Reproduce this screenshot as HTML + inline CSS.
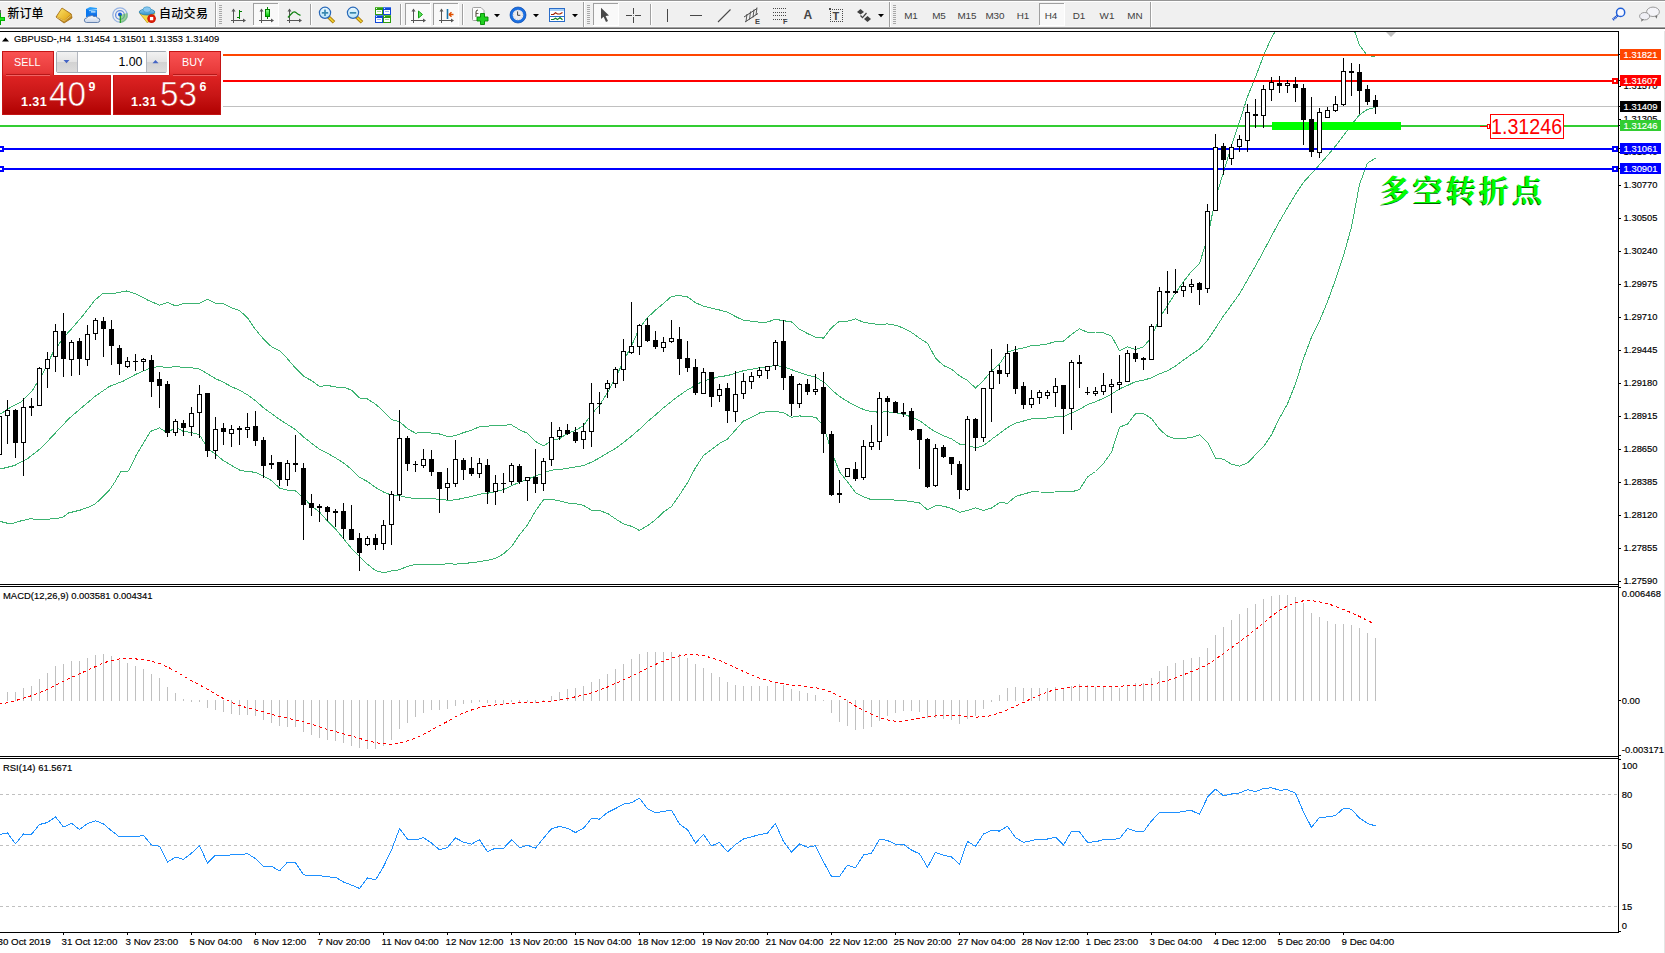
<!DOCTYPE html>
<html><head><meta charset="utf-8"><title>GBPUSD-,H4</title>
<style>
html,body{margin:0;padding:0;background:#fff;}
body{width:1665px;height:953px;overflow:hidden;position:relative;font-family:"Liberation Sans","Noto Sans CJK SC",sans-serif;}
#chart{position:absolute;left:0;top:0;}
.ax{position:absolute;font-size:9.4px;line-height:11px;height:11px;color:#000;white-space:nowrap;letter-spacing:0px;-webkit-text-stroke:0.16px currentColor;}
.w{color:#fff;}
.pb{width:41px;height:11px;line-height:11.2px;box-sizing:border-box;padding-left:3.6px;}
.tm{font-size:9.75px;}
.ttl{font-size:9.35px;}
.ind{font-size:9.45px;}
.big{position:absolute;left:1380px;top:166px;font-family:"Noto Serif CJK SC","Noto Sans CJK SC",serif;font-weight:700;font-size:30px;line-height:44px;color:#00ff00;text-shadow:-1px 1px 0 #006400;white-space:nowrap;letter-spacing:3.1px;}
.redlbl{position:absolute;left:1491.2px;top:114px;width:70px;height:25px;line-height:25.5px;font-size:22px;color:#ff0000;white-space:nowrap;transform-origin:0 50%;transform:scaleX(0.895);}

#tb{position:absolute;left:0;top:0;width:1665px;height:31px;background:#f0f0f0;overflow:hidden;}
#tb .ln{position:absolute;left:0;width:1665px;height:1px;}
#tbs{position:absolute;left:0;top:0;}
.cn{position:absolute;top:6px;font-size:12px;line-height:17px;color:#000;font-weight:500;white-space:nowrap;font-family:"Liberation Sans","Noto Sans CJK SC",sans-serif;}
.tf{position:absolute;top:9px;width:28px;text-align:center;font-size:9.9px;line-height:13px;color:#404040;white-space:nowrap;}
.ib{position:absolute;font-weight:bold;color:#444;white-space:nowrap;}


#tp{position:absolute;left:0;top:46px;width:223px;height:72px;background:#fff;}
#tp .red{position:absolute;background:linear-gradient(#f95252 0,#e83a3a 20px,#dc2222 26px,#c81616 44px,#b20202 62px,#b00000 64px);background-size:100% 64px;border:1px solid #c41414;box-sizing:border-box;}
#tp .btn{background-position:0 0;}
#tp .low{background-position:0 -24px;}
#tp .t{position:absolute;color:#fff;white-space:nowrap;}
#tp .sp{position:absolute;left:56px;top:5px;width:111px;height:22px;box-sizing:border-box;border:1px solid #a4acb4;border-radius:2px;background:#fff;}
#tp .sb{position:absolute;top:6px;width:20px;height:20px;background:linear-gradient(#f2f2f2 0,#e4e4e4 49%,#d2d2d2 50%,#dcdcdc 100%);border-right:1px solid #b4b8c0;}

</style></head><body>
<svg id="chart" width="1665" height="953" viewBox="0 0 1665 953" shape-rendering="crispEdges">
<rect x="0" y="31" width="1619" height="1" fill="#000"/>
<rect x="1618" y="31" width="1" height="902" fill="#000"/>
<rect x="0" y="584" width="1619" height="1" fill="#000"/>
<rect x="0" y="586" width="1619" height="1" fill="#000"/>
<rect x="0" y="756" width="1619" height="1" fill="#000"/>
<rect x="0" y="758" width="1619" height="1" fill="#000"/>
<rect x="0" y="932" width="1619" height="1" fill="#000"/>
<rect x="1664" y="29" width="1" height="924" fill="#e4e4e4"/>
<clipPath id="mainclip"><rect x="0" y="32" width="1618" height="552"/></clipPath>
<polyline points="0.5,414.0 11.0,407.0 21.5,401.7 32.0,391.0 42.5,374.4 53.0,352.4 63.5,337.7 74.0,326.0 84.5,313.6 94.9,300.0 103.5,293.0 115.9,293.0 126.5,291.0 136.9,294.3 147.5,300.0 159.5,305.1 167.5,302.4 175.5,305.9 183.5,303.6 191.5,303.1 199.5,303.4 207.5,299.3 215.5,303.1 223.5,303.9 231.5,307.9 239.5,310.4 247.5,317.9 255.5,329.5 263.5,339.1 271.5,346.7 279.5,350.8 287.5,358.8 295.5,368.2 303.5,376.2 311.5,380.6 319.5,386.5 327.5,385.4 335.5,387.0 343.5,387.2 351.5,390.1 359.5,397.9 367.5,399.0 375.5,404.1 383.5,411.2 391.5,419.7 399.5,421.6 407.5,428.7 415.5,433.2 423.5,432.2 431.5,433.1 439.5,434.0 447.5,436.6 455.5,435.7 463.5,432.6 471.5,430.3 479.5,426.7 487.5,426.2 495.5,425.2 503.5,425.1 511.5,424.9 519.5,429.7 527.5,433.4 535.5,441.5 543.5,446.0 551.5,440.8 559.5,438.6 567.5,433.5 575.5,430.3 583.5,425.8 591.5,414.1 599.5,405.3 607.5,392.5 615.5,378.0 623.5,361.1 631.5,346.0 639.5,327.9 647.5,317.7 655.5,310.0 663.5,303.4 671.5,296.4 679.5,295.6 687.5,296.9 695.5,302.8 703.5,306.1 711.5,308.2 719.5,310.0 727.5,312.1 735.5,316.5 743.5,320.4 751.5,321.2 759.5,322.2 767.5,322.0 775.5,319.3 783.5,320.7 791.5,321.9 799.5,329.2 807.5,333.5 815.5,337.3 823.5,338.1 831.5,327.7 839.5,321.1 847.5,321.2 855.5,318.9 863.5,322.3 871.5,323.6 879.5,324.5 887.5,323.9 895.5,325.2 903.5,328.1 911.5,332.4 919.5,338.2 927.5,343.3 935.5,358.0 943.5,365.6 951.5,369.1 959.5,375.9 967.5,380.4 975.5,388.1 983.5,380.5 991.5,370.9 999.5,364.1 1007.5,352.0 1015.5,349.6 1023.5,347.9 1031.5,345.7 1039.5,345.1 1047.5,344.0 1055.5,341.4 1063.5,341.1 1071.5,334.4 1079.5,328.8 1087.5,332.3 1095.5,332.0 1103.5,332.9 1111.5,336.1 1119.5,350.6 1127.5,346.9 1135.5,349.5 1143.5,346.8 1151.5,337.2 1159.5,318.3 1167.5,305.4 1175.5,293.0 1183.5,281.6 1191.5,271.3 1199.5,263.6 1207.5,238.0 1215.5,198.3 1223.5,172.3 1231.5,145.8 1239.5,121.6 1247.5,96.7 1255.5,77.2 1263.5,55.8 1271.5,37.5 1279.5,24.4 1287.5,11.9 1295.5,4.7 1303.5,6.2 1311.5,10.1 1319.5,8.4 1327.5,9.3 1335.5,12.7 1343.5,14.9 1351.5,22.6 1359.5,45.3 1367.5,55.6 1375.5,56.5" fill="none" stroke="#3cb371" stroke-width="1" stroke-linejoin="round" clip-path="url(#mainclip)"/>
<polyline points="0.5,469.0 14.5,465.5 27.5,458.7 41.5,447.8 55.5,432.8 68.5,419.0 82.5,407.0 95.5,396.0 109.5,386.4 123.5,381.0 136.5,374.0 150.5,367.9 159.5,366.5 167.5,367.6 175.5,366.5 183.5,367.5 191.5,367.8 199.5,369.1 207.5,373.7 215.5,378.6 223.5,382.3 231.5,386.7 239.5,390.2 247.5,394.8 255.5,400.8 263.5,407.7 271.5,413.6 279.5,419.4 287.5,424.5 295.5,429.6 303.5,436.9 311.5,443.2 319.5,449.3 327.5,453.3 335.5,457.9 343.5,462.9 351.5,469.3 359.5,477.2 367.5,481.6 375.5,487.4 383.5,492.0 391.5,495.2 399.5,495.7 407.5,497.5 415.5,498.7 423.5,498.4 431.5,498.8 439.5,499.2 447.5,500.2 455.5,499.9 463.5,498.1 471.5,496.5 479.5,494.2 487.5,493.2 495.5,491.7 503.5,489.5 511.5,485.8 519.5,482.3 527.5,479.2 535.5,476.1 543.5,473.0 551.5,470.1 559.5,469.7 567.5,468.2 575.5,467.0 583.5,465.6 591.5,462.2 599.5,457.9 607.5,453.0 615.5,448.4 623.5,442.5 631.5,436.1 639.5,429.2 647.5,421.7 655.5,414.9 663.5,407.8 671.5,401.4 679.5,395.3 687.5,389.8 695.5,385.3 703.5,380.8 711.5,378.8 719.5,376.7 727.5,375.6 735.5,373.2 743.5,370.7 751.5,369.3 759.5,367.6 767.5,366.8 775.5,365.4 783.5,366.7 791.5,369.6 799.5,372.6 807.5,375.1 815.5,377.2 823.5,381.8 831.5,389.7 839.5,396.4 847.5,401.5 855.5,405.8 863.5,409.5 871.5,411.7 879.5,412.2 887.5,411.8 895.5,412.7 903.5,414.3 911.5,417.0 919.5,420.5 927.5,426.6 935.5,431.9 943.5,435.8 951.5,438.8 959.5,444.1 967.5,445.4 975.5,447.9 983.5,445.6 991.5,439.4 999.5,433.4 1007.5,427.6 1015.5,423.1 1023.5,421.0 1031.5,418.8 1039.5,418.5 1047.5,418.0 1055.5,416.7 1063.5,416.5 1071.5,413.1 1079.5,409.3 1087.5,404.6 1095.5,401.8 1103.5,398.2 1111.5,394.2 1119.5,388.8 1127.5,385.5 1135.5,381.6 1143.5,380.1 1151.5,377.9 1159.5,373.8 1167.5,370.8 1175.5,366.0 1183.5,360.1 1191.5,354.3 1199.5,349.2 1207.5,340.2 1215.5,328.2 1223.5,315.8 1231.5,305.0 1239.5,293.8 1247.5,279.8 1255.5,266.0 1263.5,251.2 1271.5,236.1 1279.5,221.3 1287.5,207.8 1295.5,194.3 1303.5,182.3 1311.5,173.6 1319.5,164.7 1327.5,155.5 1335.5,146.1 1343.5,135.4 1351.5,124.8 1359.5,114.8 1367.5,109.4 1375.5,107.3" fill="none" stroke="#3cb371" stroke-width="1" stroke-linejoin="round" clip-path="url(#mainclip)"/>
<polyline points="0.5,521.5 10.5,524.0 20.5,521.0 30.5,518.7 40.5,520.0 55.5,518.5 62.5,517.4 68.5,513.0 80.5,510.0 90.5,506.5 95.5,503.7 102.5,497.0 109.5,490.0 115.5,481.0 120.5,472.0 128.5,471.0 136.5,454.6 143.5,443.0 150.5,431.4 159.5,427.9 167.5,432.8 175.5,427.1 183.5,431.5 191.5,432.5 199.5,434.8 207.5,448.2 215.5,454.2 223.5,460.7 231.5,465.4 239.5,470.0 247.5,471.7 255.5,472.2 263.5,476.3 271.5,480.5 279.5,488.0 287.5,490.2 295.5,491.0 303.5,497.7 311.5,505.9 319.5,512.1 327.5,521.1 335.5,528.8 343.5,538.7 351.5,548.5 359.5,556.5 367.5,564.2 375.5,570.6 383.5,572.8 391.5,570.8 399.5,569.8 407.5,566.3 415.5,564.3 423.5,564.6 431.5,564.4 439.5,564.4 447.5,563.8 455.5,564.1 463.5,563.7 471.5,562.6 479.5,561.7 487.5,560.3 495.5,558.3 503.5,553.9 511.5,546.6 519.5,534.8 527.5,524.9 535.5,510.8 543.5,499.9 551.5,499.4 559.5,500.8 567.5,503.0 575.5,503.7 583.5,505.4 591.5,510.2 599.5,510.6 607.5,513.4 615.5,518.9 623.5,523.9 631.5,526.3 639.5,530.5 647.5,525.7 655.5,519.7 663.5,512.1 671.5,506.5 679.5,495.0 687.5,482.7 695.5,467.7 703.5,455.5 711.5,449.4 719.5,443.5 727.5,439.0 735.5,429.9 743.5,421.0 751.5,417.5 759.5,413.0 767.5,411.6 775.5,411.5 783.5,412.7 791.5,417.3 799.5,415.9 807.5,416.8 815.5,417.1 823.5,425.6 831.5,451.6 839.5,471.8 847.5,481.8 855.5,492.7 863.5,496.7 871.5,499.8 879.5,499.9 887.5,499.6 895.5,500.1 903.5,500.6 911.5,501.6 919.5,502.9 927.5,509.8 935.5,505.7 943.5,506.1 951.5,508.5 959.5,512.3 967.5,510.5 975.5,507.7 983.5,510.6 991.5,508.0 999.5,502.6 1007.5,503.2 1015.5,496.6 1023.5,494.1 1031.5,491.9 1039.5,492.0 1047.5,492.1 1055.5,492.0 1063.5,491.9 1071.5,491.8 1079.5,489.7 1087.5,476.9 1095.5,471.5 1103.5,463.4 1111.5,452.3 1119.5,427.1 1127.5,424.1 1135.5,413.7 1143.5,413.5 1151.5,418.6 1159.5,429.3 1167.5,436.1 1175.5,439.0 1183.5,438.5 1191.5,437.4 1199.5,434.8 1207.5,442.3 1215.5,458.1 1223.5,459.2 1231.5,464.3 1239.5,466.1 1247.5,462.9 1255.5,454.8 1263.5,446.7 1271.5,434.7 1279.5,418.2 1287.5,403.8 1295.5,383.9 1303.5,358.5 1311.5,337.2 1319.5,320.9 1327.5,301.8 1335.5,279.5 1343.5,255.8 1351.5,227.0 1359.5,184.4 1367.5,163.1 1375.5,158.2" fill="none" stroke="#3cb371" stroke-width="1" stroke-linejoin="round" clip-path="url(#mainclip)"/>
<rect x="0" y="106" width="1618" height="1" fill="#c0c0c0"/>
<rect x="223" y="54" width="1395" height="2" fill="#ff4500"/>
<rect x="223" y="80" width="1395" height="2" fill="#ff0000"/>
<rect x="0" y="125" width="1618" height="2" fill="#32cd32"/>
<rect x="0" y="148" width="1618" height="2" fill="#0000ff"/>
<rect x="0" y="168" width="1618" height="2" fill="#0000ff"/>
<rect x="1272" y="122" width="129" height="8" fill="#00ff00"/>
<rect x="1612" y="78" width="6" height="6" fill="#ff0000"/>
<rect x="1614" y="80" width="2" height="2" fill="#fff"/>
<rect x="1612" y="146" width="6" height="6" fill="#0000ff"/>
<rect x="1614" y="148" width="2" height="2" fill="#fff"/>
<rect x="1612" y="166" width="6" height="6" fill="#0000ff"/>
<rect x="1614" y="168" width="2" height="2" fill="#fff"/>
<rect x="0" y="146" width="4" height="6" fill="#0000ff"/>
<rect x="0" y="148" width="2" height="2" fill="#fff"/>
<rect x="0" y="166" width="4" height="6" fill="#0000ff"/>
<rect x="0" y="168" width="2" height="2" fill="#fff"/>
<rect x="-1" y="400" width="1" height="55" fill="#000"/>
<rect x="-3" y="416" width="5" height="39" fill="#000"/>
<rect x="-2" y="417" width="3" height="37" fill="#fff"/>
<rect x="7" y="400" width="1" height="44" fill="#000"/>
<rect x="5" y="410" width="5" height="6" fill="#000"/>
<rect x="6" y="411" width="3" height="4" fill="#fff"/>
<rect x="15" y="409" width="1" height="49" fill="#000"/>
<rect x="13" y="410" width="5" height="33" fill="#000"/>
<rect x="23" y="398" width="1" height="78" fill="#000"/>
<rect x="21" y="407" width="5" height="36" fill="#000"/>
<rect x="22" y="408" width="3" height="34" fill="#fff"/>
<rect x="31" y="398" width="1" height="18" fill="#000"/>
<rect x="29" y="406" width="5" height="2" fill="#000"/>
<rect x="39" y="367" width="1" height="39" fill="#000"/>
<rect x="37" y="368" width="5" height="38" fill="#000"/>
<rect x="38" y="369" width="3" height="36" fill="#fff"/>
<rect x="47" y="352" width="1" height="36" fill="#000"/>
<rect x="45" y="359" width="5" height="10" fill="#000"/>
<rect x="46" y="360" width="3" height="8" fill="#fff"/>
<rect x="55" y="324" width="1" height="48" fill="#000"/>
<rect x="53" y="331" width="5" height="26" fill="#000"/>
<rect x="54" y="332" width="3" height="24" fill="#fff"/>
<rect x="63" y="313" width="1" height="64" fill="#000"/>
<rect x="61" y="331" width="5" height="28" fill="#000"/>
<rect x="71" y="340" width="1" height="36" fill="#000"/>
<rect x="69" y="342" width="5" height="18" fill="#000"/>
<rect x="70" y="343" width="3" height="16" fill="#fff"/>
<rect x="79" y="338" width="1" height="37" fill="#000"/>
<rect x="77" y="341" width="5" height="18" fill="#000"/>
<rect x="87" y="325" width="1" height="41" fill="#000"/>
<rect x="85" y="334" width="5" height="26" fill="#000"/>
<rect x="86" y="335" width="3" height="24" fill="#fff"/>
<rect x="95" y="318" width="1" height="22" fill="#000"/>
<rect x="93" y="320" width="5" height="14" fill="#000"/>
<rect x="94" y="321" width="3" height="12" fill="#fff"/>
<rect x="103" y="317" width="1" height="40" fill="#000"/>
<rect x="101" y="321" width="5" height="8" fill="#000"/>
<rect x="111" y="320" width="1" height="45" fill="#000"/>
<rect x="109" y="329" width="5" height="17" fill="#000"/>
<rect x="119" y="345" width="1" height="30" fill="#000"/>
<rect x="117" y="348" width="5" height="16" fill="#000"/>
<rect x="127" y="357" width="1" height="11" fill="#000"/>
<rect x="125" y="361" width="5" height="6" fill="#000"/>
<rect x="126" y="362" width="3" height="4" fill="#fff"/>
<rect x="135" y="354" width="1" height="17" fill="#000"/>
<rect x="133" y="361" width="5" height="1" fill="#000"/>
<rect x="143" y="358" width="1" height="13" fill="#000"/>
<rect x="141" y="359" width="5" height="3" fill="#000"/>
<rect x="142" y="360" width="3" height="1" fill="#fff"/>
<rect x="151" y="355" width="1" height="42" fill="#000"/>
<rect x="149" y="360" width="5" height="22" fill="#000"/>
<rect x="159" y="372" width="1" height="36" fill="#000"/>
<rect x="157" y="379" width="5" height="7" fill="#000"/>
<rect x="167" y="381" width="1" height="56" fill="#000"/>
<rect x="165" y="384" width="5" height="49" fill="#000"/>
<rect x="175" y="419" width="1" height="17" fill="#000"/>
<rect x="173" y="421" width="5" height="12" fill="#000"/>
<rect x="174" y="422" width="3" height="10" fill="#fff"/>
<rect x="183" y="420" width="1" height="16" fill="#000"/>
<rect x="181" y="423" width="5" height="5" fill="#000"/>
<rect x="191" y="407" width="1" height="29" fill="#000"/>
<rect x="189" y="413" width="5" height="14" fill="#000"/>
<rect x="190" y="414" width="3" height="12" fill="#fff"/>
<rect x="199" y="385" width="1" height="53" fill="#000"/>
<rect x="197" y="394" width="5" height="19" fill="#000"/>
<rect x="198" y="395" width="3" height="17" fill="#fff"/>
<rect x="207" y="393" width="1" height="64" fill="#000"/>
<rect x="205" y="393" width="5" height="58" fill="#000"/>
<rect x="215" y="417" width="1" height="42" fill="#000"/>
<rect x="213" y="429" width="5" height="22" fill="#000"/>
<rect x="214" y="430" width="3" height="20" fill="#fff"/>
<rect x="223" y="423" width="1" height="22" fill="#000"/>
<rect x="221" y="428" width="5" height="4" fill="#000"/>
<rect x="231" y="425" width="1" height="22" fill="#000"/>
<rect x="229" y="429" width="5" height="5" fill="#000"/>
<rect x="230" y="430" width="3" height="3" fill="#fff"/>
<rect x="239" y="426" width="1" height="19" fill="#000"/>
<rect x="237" y="428" width="5" height="2" fill="#000"/>
<rect x="247" y="413" width="1" height="25" fill="#000"/>
<rect x="245" y="427" width="5" height="3" fill="#000"/>
<rect x="246" y="428" width="3" height="1" fill="#fff"/>
<rect x="255" y="411" width="1" height="35" fill="#000"/>
<rect x="253" y="426" width="5" height="15" fill="#000"/>
<rect x="263" y="437" width="1" height="41" fill="#000"/>
<rect x="261" y="440" width="5" height="26" fill="#000"/>
<rect x="271" y="455" width="1" height="14" fill="#000"/>
<rect x="269" y="463" width="5" height="2" fill="#000"/>
<rect x="279" y="462" width="1" height="24" fill="#000"/>
<rect x="277" y="462" width="5" height="18" fill="#000"/>
<rect x="287" y="460" width="1" height="26" fill="#000"/>
<rect x="285" y="463" width="5" height="17" fill="#000"/>
<rect x="286" y="464" width="3" height="15" fill="#fff"/>
<rect x="295" y="435" width="1" height="37" fill="#000"/>
<rect x="293" y="463" width="5" height="2" fill="#000"/>
<rect x="303" y="463" width="1" height="77" fill="#000"/>
<rect x="301" y="468" width="5" height="37" fill="#000"/>
<rect x="311" y="494" width="1" height="22" fill="#000"/>
<rect x="309" y="503" width="5" height="5" fill="#000"/>
<rect x="319" y="504" width="1" height="18" fill="#000"/>
<rect x="317" y="506" width="5" height="2" fill="#000"/>
<rect x="327" y="506" width="1" height="15" fill="#000"/>
<rect x="325" y="507" width="5" height="5" fill="#000"/>
<rect x="335" y="509" width="1" height="18" fill="#000"/>
<rect x="333" y="511" width="5" height="2" fill="#000"/>
<rect x="343" y="503" width="1" height="36" fill="#000"/>
<rect x="341" y="511" width="5" height="18" fill="#000"/>
<rect x="351" y="505" width="1" height="35" fill="#000"/>
<rect x="349" y="529" width="5" height="11" fill="#000"/>
<rect x="359" y="533" width="1" height="38" fill="#000"/>
<rect x="357" y="538" width="5" height="15" fill="#000"/>
<rect x="367" y="536" width="1" height="10" fill="#000"/>
<rect x="365" y="538" width="5" height="7" fill="#000"/>
<rect x="366" y="539" width="3" height="5" fill="#fff"/>
<rect x="375" y="534" width="1" height="16" fill="#000"/>
<rect x="373" y="538" width="5" height="7" fill="#000"/>
<rect x="383" y="520" width="1" height="30" fill="#000"/>
<rect x="381" y="525" width="5" height="19" fill="#000"/>
<rect x="382" y="526" width="3" height="17" fill="#fff"/>
<rect x="391" y="491" width="1" height="54" fill="#000"/>
<rect x="389" y="494" width="5" height="31" fill="#000"/>
<rect x="390" y="495" width="3" height="29" fill="#fff"/>
<rect x="399" y="410" width="1" height="91" fill="#000"/>
<rect x="397" y="438" width="5" height="57" fill="#000"/>
<rect x="398" y="439" width="3" height="55" fill="#fff"/>
<rect x="407" y="436" width="1" height="35" fill="#000"/>
<rect x="405" y="438" width="5" height="26" fill="#000"/>
<rect x="415" y="461" width="1" height="11" fill="#000"/>
<rect x="413" y="464" width="5" height="1" fill="#000"/>
<rect x="423" y="449" width="1" height="19" fill="#000"/>
<rect x="421" y="459" width="5" height="7" fill="#000"/>
<rect x="422" y="460" width="3" height="5" fill="#fff"/>
<rect x="431" y="450" width="1" height="26" fill="#000"/>
<rect x="429" y="459" width="5" height="13" fill="#000"/>
<rect x="439" y="472" width="1" height="41" fill="#000"/>
<rect x="437" y="472" width="5" height="17" fill="#000"/>
<rect x="447" y="468" width="1" height="32" fill="#000"/>
<rect x="445" y="483" width="5" height="5" fill="#000"/>
<rect x="446" y="484" width="3" height="3" fill="#fff"/>
<rect x="455" y="440" width="1" height="47" fill="#000"/>
<rect x="453" y="459" width="5" height="25" fill="#000"/>
<rect x="454" y="460" width="3" height="23" fill="#fff"/>
<rect x="463" y="458" width="1" height="22" fill="#000"/>
<rect x="461" y="460" width="5" height="10" fill="#000"/>
<rect x="471" y="457" width="1" height="19" fill="#000"/>
<rect x="469" y="468" width="5" height="6" fill="#000"/>
<rect x="479" y="458" width="1" height="20" fill="#000"/>
<rect x="477" y="463" width="5" height="11" fill="#000"/>
<rect x="478" y="464" width="3" height="9" fill="#fff"/>
<rect x="487" y="459" width="1" height="45" fill="#000"/>
<rect x="485" y="465" width="5" height="27" fill="#000"/>
<rect x="495" y="475" width="1" height="30" fill="#000"/>
<rect x="493" y="483" width="5" height="9" fill="#000"/>
<rect x="494" y="484" width="3" height="7" fill="#fff"/>
<rect x="503" y="473" width="1" height="20" fill="#000"/>
<rect x="501" y="483" width="5" height="1" fill="#000"/>
<rect x="511" y="463" width="1" height="22" fill="#000"/>
<rect x="509" y="465" width="5" height="17" fill="#000"/>
<rect x="510" y="466" width="3" height="15" fill="#fff"/>
<rect x="519" y="464" width="1" height="20" fill="#000"/>
<rect x="517" y="466" width="5" height="16" fill="#000"/>
<rect x="527" y="477" width="1" height="24" fill="#000"/>
<rect x="525" y="477" width="5" height="4" fill="#000"/>
<rect x="526" y="478" width="3" height="2" fill="#fff"/>
<rect x="535" y="449" width="1" height="44" fill="#000"/>
<rect x="533" y="477" width="5" height="7" fill="#000"/>
<rect x="543" y="458" width="1" height="33" fill="#000"/>
<rect x="541" y="461" width="5" height="23" fill="#000"/>
<rect x="542" y="462" width="3" height="21" fill="#fff"/>
<rect x="551" y="422" width="1" height="44" fill="#000"/>
<rect x="549" y="437" width="5" height="23" fill="#000"/>
<rect x="550" y="438" width="3" height="21" fill="#fff"/>
<rect x="559" y="427" width="1" height="13" fill="#000"/>
<rect x="557" y="430" width="5" height="7" fill="#000"/>
<rect x="558" y="431" width="3" height="5" fill="#fff"/>
<rect x="567" y="424" width="1" height="11" fill="#000"/>
<rect x="565" y="430" width="5" height="4" fill="#000"/>
<rect x="575" y="427" width="1" height="16" fill="#000"/>
<rect x="573" y="432" width="5" height="9" fill="#000"/>
<rect x="583" y="423" width="1" height="26" fill="#000"/>
<rect x="581" y="431" width="5" height="9" fill="#000"/>
<rect x="582" y="432" width="3" height="7" fill="#fff"/>
<rect x="591" y="383" width="1" height="64" fill="#000"/>
<rect x="589" y="403" width="5" height="29" fill="#000"/>
<rect x="590" y="404" width="3" height="27" fill="#fff"/>
<rect x="599" y="392" width="1" height="22" fill="#000"/>
<rect x="597" y="403" width="5" height="1" fill="#000"/>
<rect x="607" y="380" width="1" height="18" fill="#000"/>
<rect x="605" y="383" width="5" height="6" fill="#000"/>
<rect x="606" y="384" width="3" height="4" fill="#fff"/>
<rect x="615" y="367" width="1" height="21" fill="#000"/>
<rect x="613" y="369" width="5" height="15" fill="#000"/>
<rect x="614" y="370" width="3" height="13" fill="#fff"/>
<rect x="623" y="339" width="1" height="42" fill="#000"/>
<rect x="621" y="351" width="5" height="19" fill="#000"/>
<rect x="622" y="352" width="3" height="17" fill="#fff"/>
<rect x="631" y="302" width="1" height="52" fill="#000"/>
<rect x="629" y="346" width="5" height="7" fill="#000"/>
<rect x="630" y="347" width="3" height="5" fill="#fff"/>
<rect x="639" y="324" width="1" height="31" fill="#000"/>
<rect x="637" y="325" width="5" height="22" fill="#000"/>
<rect x="638" y="326" width="3" height="20" fill="#fff"/>
<rect x="647" y="318" width="1" height="24" fill="#000"/>
<rect x="645" y="325" width="5" height="16" fill="#000"/>
<rect x="655" y="331" width="1" height="18" fill="#000"/>
<rect x="653" y="340" width="5" height="7" fill="#000"/>
<rect x="663" y="337" width="1" height="15" fill="#000"/>
<rect x="661" y="342" width="5" height="6" fill="#000"/>
<rect x="662" y="343" width="3" height="4" fill="#fff"/>
<rect x="671" y="320" width="1" height="23" fill="#000"/>
<rect x="669" y="338" width="5" height="4" fill="#000"/>
<rect x="670" y="339" width="3" height="2" fill="#fff"/>
<rect x="679" y="327" width="1" height="48" fill="#000"/>
<rect x="677" y="339" width="5" height="20" fill="#000"/>
<rect x="687" y="341" width="1" height="31" fill="#000"/>
<rect x="685" y="358" width="5" height="10" fill="#000"/>
<rect x="695" y="359" width="1" height="36" fill="#000"/>
<rect x="693" y="367" width="5" height="26" fill="#000"/>
<rect x="703" y="368" width="1" height="26" fill="#000"/>
<rect x="701" y="372" width="5" height="22" fill="#000"/>
<rect x="702" y="373" width="3" height="20" fill="#fff"/>
<rect x="711" y="372" width="1" height="35" fill="#000"/>
<rect x="709" y="372" width="5" height="25" fill="#000"/>
<rect x="719" y="384" width="1" height="18" fill="#000"/>
<rect x="717" y="389" width="5" height="7" fill="#000"/>
<rect x="718" y="390" width="3" height="5" fill="#fff"/>
<rect x="727" y="383" width="1" height="40" fill="#000"/>
<rect x="725" y="388" width="5" height="23" fill="#000"/>
<rect x="735" y="371" width="1" height="51" fill="#000"/>
<rect x="733" y="394" width="5" height="18" fill="#000"/>
<rect x="734" y="395" width="3" height="16" fill="#fff"/>
<rect x="743" y="373" width="1" height="26" fill="#000"/>
<rect x="741" y="381" width="5" height="13" fill="#000"/>
<rect x="742" y="382" width="3" height="11" fill="#fff"/>
<rect x="751" y="372" width="1" height="17" fill="#000"/>
<rect x="749" y="376" width="5" height="6" fill="#000"/>
<rect x="750" y="377" width="3" height="4" fill="#fff"/>
<rect x="759" y="367" width="1" height="11" fill="#000"/>
<rect x="757" y="370" width="5" height="6" fill="#000"/>
<rect x="758" y="371" width="3" height="4" fill="#fff"/>
<rect x="767" y="366" width="1" height="13" fill="#000"/>
<rect x="765" y="366" width="5" height="5" fill="#000"/>
<rect x="766" y="367" width="3" height="3" fill="#fff"/>
<rect x="775" y="340" width="1" height="30" fill="#000"/>
<rect x="773" y="342" width="5" height="24" fill="#000"/>
<rect x="774" y="343" width="3" height="22" fill="#fff"/>
<rect x="783" y="320" width="1" height="70" fill="#000"/>
<rect x="781" y="341" width="5" height="37" fill="#000"/>
<rect x="791" y="374" width="1" height="42" fill="#000"/>
<rect x="789" y="376" width="5" height="28" fill="#000"/>
<rect x="799" y="383" width="1" height="25" fill="#000"/>
<rect x="797" y="384" width="5" height="20" fill="#000"/>
<rect x="798" y="385" width="3" height="18" fill="#fff"/>
<rect x="807" y="379" width="1" height="16" fill="#000"/>
<rect x="805" y="384" width="5" height="8" fill="#000"/>
<rect x="815" y="374" width="1" height="21" fill="#000"/>
<rect x="813" y="389" width="5" height="3" fill="#000"/>
<rect x="814" y="390" width="3" height="1" fill="#fff"/>
<rect x="823" y="372" width="1" height="81" fill="#000"/>
<rect x="821" y="387" width="5" height="47" fill="#000"/>
<rect x="831" y="431" width="1" height="65" fill="#000"/>
<rect x="829" y="434" width="5" height="61" fill="#000"/>
<rect x="839" y="480" width="1" height="23" fill="#000"/>
<rect x="837" y="493" width="5" height="2" fill="#000"/>
<rect x="847" y="468" width="1" height="9" fill="#000"/>
<rect x="845" y="468" width="5" height="9" fill="#000"/>
<rect x="846" y="469" width="3" height="7" fill="#fff"/>
<rect x="855" y="462" width="1" height="19" fill="#000"/>
<rect x="853" y="469" width="5" height="10" fill="#000"/>
<rect x="863" y="440" width="1" height="40" fill="#000"/>
<rect x="861" y="446" width="5" height="32" fill="#000"/>
<rect x="862" y="447" width="3" height="30" fill="#fff"/>
<rect x="871" y="425" width="1" height="25" fill="#000"/>
<rect x="869" y="442" width="5" height="5" fill="#000"/>
<rect x="870" y="443" width="3" height="3" fill="#fff"/>
<rect x="879" y="392" width="1" height="58" fill="#000"/>
<rect x="877" y="398" width="5" height="44" fill="#000"/>
<rect x="878" y="399" width="3" height="42" fill="#fff"/>
<rect x="887" y="396" width="1" height="40" fill="#000"/>
<rect x="885" y="398" width="5" height="4" fill="#000"/>
<rect x="895" y="401" width="1" height="12" fill="#000"/>
<rect x="893" y="402" width="5" height="11" fill="#000"/>
<rect x="903" y="403" width="1" height="14" fill="#000"/>
<rect x="901" y="412" width="5" height="2" fill="#000"/>
<rect x="911" y="408" width="1" height="23" fill="#000"/>
<rect x="909" y="411" width="5" height="19" fill="#000"/>
<rect x="919" y="429" width="1" height="40" fill="#000"/>
<rect x="917" y="429" width="5" height="11" fill="#000"/>
<rect x="927" y="438" width="1" height="50" fill="#000"/>
<rect x="925" y="439" width="5" height="48" fill="#000"/>
<rect x="935" y="444" width="1" height="43" fill="#000"/>
<rect x="933" y="448" width="5" height="38" fill="#000"/>
<rect x="934" y="449" width="3" height="36" fill="#fff"/>
<rect x="943" y="445" width="1" height="13" fill="#000"/>
<rect x="941" y="447" width="5" height="10" fill="#000"/>
<rect x="951" y="457" width="1" height="18" fill="#000"/>
<rect x="949" y="457" width="5" height="7" fill="#000"/>
<rect x="959" y="461" width="1" height="38" fill="#000"/>
<rect x="957" y="464" width="5" height="26" fill="#000"/>
<rect x="967" y="416" width="1" height="75" fill="#000"/>
<rect x="965" y="419" width="5" height="71" fill="#000"/>
<rect x="966" y="420" width="3" height="69" fill="#fff"/>
<rect x="975" y="418" width="1" height="33" fill="#000"/>
<rect x="973" y="419" width="5" height="19" fill="#000"/>
<rect x="983" y="388" width="1" height="54" fill="#000"/>
<rect x="981" y="388" width="5" height="50" fill="#000"/>
<rect x="982" y="389" width="3" height="48" fill="#fff"/>
<rect x="991" y="349" width="1" height="73" fill="#000"/>
<rect x="989" y="371" width="5" height="18" fill="#000"/>
<rect x="990" y="372" width="3" height="16" fill="#fff"/>
<rect x="999" y="365" width="1" height="19" fill="#000"/>
<rect x="997" y="370" width="5" height="4" fill="#000"/>
<rect x="1007" y="344" width="1" height="33" fill="#000"/>
<rect x="1005" y="353" width="5" height="21" fill="#000"/>
<rect x="1006" y="354" width="3" height="19" fill="#fff"/>
<rect x="1015" y="346" width="1" height="48" fill="#000"/>
<rect x="1013" y="352" width="5" height="37" fill="#000"/>
<rect x="1023" y="382" width="1" height="27" fill="#000"/>
<rect x="1021" y="386" width="5" height="19" fill="#000"/>
<rect x="1031" y="390" width="1" height="18" fill="#000"/>
<rect x="1029" y="398" width="5" height="7" fill="#000"/>
<rect x="1030" y="399" width="3" height="5" fill="#fff"/>
<rect x="1039" y="390" width="1" height="14" fill="#000"/>
<rect x="1037" y="392" width="5" height="6" fill="#000"/>
<rect x="1038" y="393" width="3" height="4" fill="#fff"/>
<rect x="1047" y="390" width="1" height="9" fill="#000"/>
<rect x="1045" y="392" width="5" height="4" fill="#000"/>
<rect x="1046" y="393" width="3" height="2" fill="#fff"/>
<rect x="1055" y="378" width="1" height="29" fill="#000"/>
<rect x="1053" y="386" width="5" height="7" fill="#000"/>
<rect x="1054" y="387" width="3" height="5" fill="#fff"/>
<rect x="1063" y="385" width="1" height="49" fill="#000"/>
<rect x="1061" y="385" width="5" height="24" fill="#000"/>
<rect x="1071" y="360" width="1" height="70" fill="#000"/>
<rect x="1069" y="362" width="5" height="47" fill="#000"/>
<rect x="1070" y="363" width="3" height="45" fill="#fff"/>
<rect x="1079" y="355" width="1" height="33" fill="#000"/>
<rect x="1077" y="362" width="5" height="2" fill="#000"/>
<rect x="1087" y="387" width="1" height="8" fill="#000"/>
<rect x="1085" y="392" width="5" height="1" fill="#000"/>
<rect x="1095" y="387" width="1" height="9" fill="#000"/>
<rect x="1093" y="391" width="5" height="3" fill="#000"/>
<rect x="1094" y="392" width="3" height="1" fill="#fff"/>
<rect x="1103" y="373" width="1" height="22" fill="#000"/>
<rect x="1101" y="385" width="5" height="7" fill="#000"/>
<rect x="1102" y="386" width="3" height="5" fill="#fff"/>
<rect x="1111" y="379" width="1" height="34" fill="#000"/>
<rect x="1109" y="384" width="5" height="3" fill="#000"/>
<rect x="1110" y="385" width="3" height="1" fill="#fff"/>
<rect x="1119" y="355" width="1" height="35" fill="#000"/>
<rect x="1117" y="382" width="5" height="3" fill="#000"/>
<rect x="1118" y="383" width="3" height="1" fill="#fff"/>
<rect x="1127" y="350" width="1" height="32" fill="#000"/>
<rect x="1125" y="353" width="5" height="29" fill="#000"/>
<rect x="1126" y="354" width="3" height="27" fill="#fff"/>
<rect x="1135" y="346" width="1" height="16" fill="#000"/>
<rect x="1133" y="353" width="5" height="6" fill="#000"/>
<rect x="1143" y="357" width="1" height="13" fill="#000"/>
<rect x="1141" y="358" width="5" height="2" fill="#000"/>
<rect x="1151" y="324" width="1" height="36" fill="#000"/>
<rect x="1149" y="326" width="5" height="34" fill="#000"/>
<rect x="1150" y="327" width="3" height="32" fill="#fff"/>
<rect x="1159" y="287" width="1" height="40" fill="#000"/>
<rect x="1157" y="291" width="5" height="36" fill="#000"/>
<rect x="1158" y="292" width="3" height="34" fill="#fff"/>
<rect x="1167" y="271" width="1" height="43" fill="#000"/>
<rect x="1165" y="291" width="5" height="2" fill="#000"/>
<rect x="1175" y="269" width="1" height="25" fill="#000"/>
<rect x="1173" y="291" width="5" height="2" fill="#000"/>
<rect x="1183" y="282" width="1" height="15" fill="#000"/>
<rect x="1181" y="286" width="5" height="5" fill="#000"/>
<rect x="1182" y="287" width="3" height="3" fill="#fff"/>
<rect x="1191" y="279" width="1" height="14" fill="#000"/>
<rect x="1189" y="284" width="5" height="3" fill="#000"/>
<rect x="1190" y="285" width="3" height="1" fill="#fff"/>
<rect x="1199" y="282" width="1" height="23" fill="#000"/>
<rect x="1197" y="283" width="5" height="7" fill="#000"/>
<rect x="1207" y="204" width="1" height="89" fill="#000"/>
<rect x="1205" y="211" width="5" height="78" fill="#000"/>
<rect x="1206" y="212" width="3" height="76" fill="#fff"/>
<rect x="1215" y="134" width="1" height="77" fill="#000"/>
<rect x="1213" y="147" width="5" height="64" fill="#000"/>
<rect x="1214" y="148" width="3" height="62" fill="#fff"/>
<rect x="1223" y="143" width="1" height="32" fill="#000"/>
<rect x="1221" y="146" width="5" height="14" fill="#000"/>
<rect x="1231" y="144" width="1" height="21" fill="#000"/>
<rect x="1229" y="147" width="5" height="12" fill="#000"/>
<rect x="1230" y="148" width="3" height="10" fill="#fff"/>
<rect x="1239" y="135" width="1" height="17" fill="#000"/>
<rect x="1237" y="139" width="5" height="8" fill="#000"/>
<rect x="1238" y="140" width="3" height="6" fill="#fff"/>
<rect x="1247" y="104" width="1" height="48" fill="#000"/>
<rect x="1245" y="112" width="5" height="29" fill="#000"/>
<rect x="1246" y="113" width="3" height="27" fill="#fff"/>
<rect x="1255" y="99" width="1" height="29" fill="#000"/>
<rect x="1253" y="114" width="5" height="2" fill="#000"/>
<rect x="1263" y="85" width="1" height="43" fill="#000"/>
<rect x="1261" y="89" width="5" height="27" fill="#000"/>
<rect x="1262" y="90" width="3" height="25" fill="#fff"/>
<rect x="1271" y="77" width="1" height="24" fill="#000"/>
<rect x="1269" y="82" width="5" height="8" fill="#000"/>
<rect x="1270" y="83" width="3" height="6" fill="#fff"/>
<rect x="1279" y="76" width="1" height="17" fill="#000"/>
<rect x="1277" y="83" width="5" height="3" fill="#000"/>
<rect x="1287" y="80" width="1" height="13" fill="#000"/>
<rect x="1285" y="83" width="5" height="3" fill="#000"/>
<rect x="1286" y="84" width="3" height="1" fill="#fff"/>
<rect x="1295" y="77" width="1" height="25" fill="#000"/>
<rect x="1293" y="84" width="5" height="4" fill="#000"/>
<rect x="1303" y="84" width="1" height="61" fill="#000"/>
<rect x="1301" y="88" width="5" height="32" fill="#000"/>
<rect x="1311" y="97" width="1" height="60" fill="#000"/>
<rect x="1309" y="119" width="5" height="33" fill="#000"/>
<rect x="1319" y="108" width="1" height="50" fill="#000"/>
<rect x="1317" y="112" width="5" height="41" fill="#000"/>
<rect x="1318" y="113" width="3" height="39" fill="#fff"/>
<rect x="1327" y="107" width="1" height="11" fill="#000"/>
<rect x="1325" y="110" width="5" height="8" fill="#000"/>
<rect x="1326" y="111" width="3" height="6" fill="#fff"/>
<rect x="1335" y="96" width="1" height="16" fill="#000"/>
<rect x="1333" y="104" width="5" height="7" fill="#000"/>
<rect x="1334" y="105" width="3" height="5" fill="#fff"/>
<rect x="1343" y="58" width="1" height="48" fill="#000"/>
<rect x="1341" y="71" width="5" height="34" fill="#000"/>
<rect x="1342" y="72" width="3" height="32" fill="#fff"/>
<rect x="1351" y="63" width="1" height="33" fill="#000"/>
<rect x="1349" y="71" width="5" height="2" fill="#000"/>
<rect x="1359" y="64" width="1" height="50" fill="#000"/>
<rect x="1357" y="72" width="5" height="19" fill="#000"/>
<rect x="1367" y="85" width="1" height="20" fill="#000"/>
<rect x="1365" y="89" width="5" height="13" fill="#000"/>
<rect x="1375" y="95" width="1" height="19" fill="#000"/>
<rect x="1373" y="100" width="5" height="7" fill="#000"/>
<rect x="7" y="692" width="1" height="9" fill="#c0c0c0"/>
<rect x="15" y="692" width="1" height="9" fill="#c0c0c0"/>
<rect x="23" y="688" width="1" height="13" fill="#c0c0c0"/>
<rect x="31" y="686" width="1" height="15" fill="#c0c0c0"/>
<rect x="39" y="679" width="1" height="22" fill="#c0c0c0"/>
<rect x="47" y="673" width="1" height="28" fill="#c0c0c0"/>
<rect x="55" y="666" width="1" height="35" fill="#c0c0c0"/>
<rect x="63" y="664" width="1" height="37" fill="#c0c0c0"/>
<rect x="71" y="661" width="1" height="40" fill="#c0c0c0"/>
<rect x="79" y="661" width="1" height="40" fill="#c0c0c0"/>
<rect x="87" y="658" width="1" height="43" fill="#c0c0c0"/>
<rect x="95" y="655" width="1" height="46" fill="#c0c0c0"/>
<rect x="103" y="654" width="1" height="47" fill="#c0c0c0"/>
<rect x="111" y="656" width="1" height="45" fill="#c0c0c0"/>
<rect x="119" y="660" width="1" height="41" fill="#c0c0c0"/>
<rect x="127" y="663" width="1" height="38" fill="#c0c0c0"/>
<rect x="135" y="666" width="1" height="35" fill="#c0c0c0"/>
<rect x="143" y="669" width="1" height="32" fill="#c0c0c0"/>
<rect x="151" y="674" width="1" height="27" fill="#c0c0c0"/>
<rect x="159" y="678" width="1" height="23" fill="#c0c0c0"/>
<rect x="167" y="687" width="1" height="14" fill="#c0c0c0"/>
<rect x="175" y="693" width="1" height="8" fill="#c0c0c0"/>
<rect x="183" y="699" width="1" height="2" fill="#c0c0c0"/>
<rect x="191" y="700" width="1" height="2" fill="#c0c0c0"/>
<rect x="199" y="700" width="1" height="2" fill="#c0c0c0"/>
<rect x="207" y="700" width="1" height="8" fill="#c0c0c0"/>
<rect x="215" y="700" width="1" height="10" fill="#c0c0c0"/>
<rect x="223" y="700" width="1" height="12" fill="#c0c0c0"/>
<rect x="231" y="700" width="1" height="14" fill="#c0c0c0"/>
<rect x="239" y="700" width="1" height="15" fill="#c0c0c0"/>
<rect x="247" y="700" width="1" height="15" fill="#c0c0c0"/>
<rect x="255" y="700" width="1" height="16" fill="#c0c0c0"/>
<rect x="263" y="700" width="1" height="20" fill="#c0c0c0"/>
<rect x="271" y="700" width="1" height="23" fill="#c0c0c0"/>
<rect x="279" y="700" width="1" height="26" fill="#c0c0c0"/>
<rect x="287" y="700" width="1" height="27" fill="#c0c0c0"/>
<rect x="295" y="700" width="1" height="27" fill="#c0c0c0"/>
<rect x="303" y="700" width="1" height="32" fill="#c0c0c0"/>
<rect x="311" y="700" width="1" height="35" fill="#c0c0c0"/>
<rect x="319" y="700" width="1" height="38" fill="#c0c0c0"/>
<rect x="327" y="700" width="1" height="40" fill="#c0c0c0"/>
<rect x="335" y="700" width="1" height="41" fill="#c0c0c0"/>
<rect x="343" y="700" width="1" height="43" fill="#c0c0c0"/>
<rect x="351" y="700" width="1" height="46" fill="#c0c0c0"/>
<rect x="359" y="700" width="1" height="48" fill="#c0c0c0"/>
<rect x="367" y="700" width="1" height="49" fill="#c0c0c0"/>
<rect x="375" y="700" width="1" height="49" fill="#c0c0c0"/>
<rect x="383" y="700" width="1" height="46" fill="#c0c0c0"/>
<rect x="391" y="700" width="1" height="40" fill="#c0c0c0"/>
<rect x="399" y="700" width="1" height="29" fill="#c0c0c0"/>
<rect x="407" y="700" width="1" height="23" fill="#c0c0c0"/>
<rect x="415" y="700" width="1" height="17" fill="#c0c0c0"/>
<rect x="423" y="700" width="1" height="13" fill="#c0c0c0"/>
<rect x="431" y="700" width="1" height="10" fill="#c0c0c0"/>
<rect x="439" y="700" width="1" height="10" fill="#c0c0c0"/>
<rect x="447" y="700" width="1" height="9" fill="#c0c0c0"/>
<rect x="455" y="700" width="1" height="6" fill="#c0c0c0"/>
<rect x="463" y="700" width="1" height="4" fill="#c0c0c0"/>
<rect x="471" y="700" width="1" height="3" fill="#c0c0c0"/>
<rect x="479" y="700" width="1" height="2" fill="#c0c0c0"/>
<rect x="487" y="700" width="1" height="3" fill="#c0c0c0"/>
<rect x="495" y="700" width="1" height="3" fill="#c0c0c0"/>
<rect x="503" y="700" width="1" height="4" fill="#c0c0c0"/>
<rect x="511" y="700" width="1" height="2" fill="#c0c0c0"/>
<rect x="519" y="700" width="1" height="2" fill="#c0c0c0"/>
<rect x="527" y="700" width="1" height="2" fill="#c0c0c0"/>
<rect x="535" y="700" width="1" height="3" fill="#c0c0c0"/>
<rect x="543" y="700" width="1" height="1" fill="#c0c0c0"/>
<rect x="551" y="696" width="1" height="5" fill="#c0c0c0"/>
<rect x="559" y="692" width="1" height="9" fill="#c0c0c0"/>
<rect x="567" y="689" width="1" height="12" fill="#c0c0c0"/>
<rect x="575" y="688" width="1" height="13" fill="#c0c0c0"/>
<rect x="583" y="686" width="1" height="15" fill="#c0c0c0"/>
<rect x="591" y="682" width="1" height="19" fill="#c0c0c0"/>
<rect x="599" y="679" width="1" height="22" fill="#c0c0c0"/>
<rect x="607" y="674" width="1" height="27" fill="#c0c0c0"/>
<rect x="615" y="669" width="1" height="32" fill="#c0c0c0"/>
<rect x="623" y="664" width="1" height="37" fill="#c0c0c0"/>
<rect x="631" y="659" width="1" height="42" fill="#c0c0c0"/>
<rect x="639" y="654" width="1" height="47" fill="#c0c0c0"/>
<rect x="647" y="652" width="1" height="49" fill="#c0c0c0"/>
<rect x="655" y="652" width="1" height="49" fill="#c0c0c0"/>
<rect x="663" y="652" width="1" height="49" fill="#c0c0c0"/>
<rect x="671" y="652" width="1" height="49" fill="#c0c0c0"/>
<rect x="679" y="654" width="1" height="47" fill="#c0c0c0"/>
<rect x="687" y="658" width="1" height="43" fill="#c0c0c0"/>
<rect x="695" y="664" width="1" height="37" fill="#c0c0c0"/>
<rect x="703" y="668" width="1" height="33" fill="#c0c0c0"/>
<rect x="711" y="673" width="1" height="28" fill="#c0c0c0"/>
<rect x="719" y="677" width="1" height="24" fill="#c0c0c0"/>
<rect x="727" y="682" width="1" height="19" fill="#c0c0c0"/>
<rect x="735" y="685" width="1" height="16" fill="#c0c0c0"/>
<rect x="743" y="686" width="1" height="15" fill="#c0c0c0"/>
<rect x="751" y="686" width="1" height="15" fill="#c0c0c0"/>
<rect x="759" y="686" width="1" height="15" fill="#c0c0c0"/>
<rect x="767" y="686" width="1" height="15" fill="#c0c0c0"/>
<rect x="775" y="683" width="1" height="18" fill="#c0c0c0"/>
<rect x="783" y="685" width="1" height="16" fill="#c0c0c0"/>
<rect x="791" y="689" width="1" height="12" fill="#c0c0c0"/>
<rect x="799" y="691" width="1" height="10" fill="#c0c0c0"/>
<rect x="807" y="693" width="1" height="8" fill="#c0c0c0"/>
<rect x="815" y="695" width="1" height="6" fill="#c0c0c0"/>
<rect x="823" y="700" width="1" height="1" fill="#c0c0c0"/>
<rect x="831" y="700" width="1" height="13" fill="#c0c0c0"/>
<rect x="839" y="700" width="1" height="22" fill="#c0c0c0"/>
<rect x="847" y="700" width="1" height="26" fill="#c0c0c0"/>
<rect x="855" y="700" width="1" height="30" fill="#c0c0c0"/>
<rect x="863" y="700" width="1" height="29" fill="#c0c0c0"/>
<rect x="871" y="700" width="1" height="27" fill="#c0c0c0"/>
<rect x="879" y="700" width="1" height="21" fill="#c0c0c0"/>
<rect x="887" y="700" width="1" height="16" fill="#c0c0c0"/>
<rect x="895" y="700" width="1" height="13" fill="#c0c0c0"/>
<rect x="903" y="700" width="1" height="11" fill="#c0c0c0"/>
<rect x="911" y="700" width="1" height="11" fill="#c0c0c0"/>
<rect x="919" y="700" width="1" height="12" fill="#c0c0c0"/>
<rect x="927" y="700" width="1" height="18" fill="#c0c0c0"/>
<rect x="935" y="700" width="1" height="18" fill="#c0c0c0"/>
<rect x="943" y="700" width="1" height="19" fill="#c0c0c0"/>
<rect x="951" y="700" width="1" height="20" fill="#c0c0c0"/>
<rect x="959" y="700" width="1" height="24" fill="#c0c0c0"/>
<rect x="967" y="700" width="1" height="19" fill="#c0c0c0"/>
<rect x="975" y="700" width="1" height="16" fill="#c0c0c0"/>
<rect x="983" y="700" width="1" height="9" fill="#c0c0c0"/>
<rect x="991" y="700" width="1" height="2" fill="#c0c0c0"/>
<rect x="999" y="695" width="1" height="6" fill="#c0c0c0"/>
<rect x="1007" y="688" width="1" height="13" fill="#c0c0c0"/>
<rect x="1015" y="687" width="1" height="14" fill="#c0c0c0"/>
<rect x="1023" y="688" width="1" height="13" fill="#c0c0c0"/>
<rect x="1031" y="688" width="1" height="13" fill="#c0c0c0"/>
<rect x="1039" y="688" width="1" height="13" fill="#c0c0c0"/>
<rect x="1047" y="688" width="1" height="13" fill="#c0c0c0"/>
<rect x="1055" y="687" width="1" height="14" fill="#c0c0c0"/>
<rect x="1063" y="689" width="1" height="12" fill="#c0c0c0"/>
<rect x="1071" y="686" width="1" height="15" fill="#c0c0c0"/>
<rect x="1079" y="684" width="1" height="17" fill="#c0c0c0"/>
<rect x="1087" y="685" width="1" height="16" fill="#c0c0c0"/>
<rect x="1095" y="687" width="1" height="14" fill="#c0c0c0"/>
<rect x="1103" y="687" width="1" height="14" fill="#c0c0c0"/>
<rect x="1111" y="687" width="1" height="14" fill="#c0c0c0"/>
<rect x="1119" y="688" width="1" height="13" fill="#c0c0c0"/>
<rect x="1127" y="685" width="1" height="16" fill="#c0c0c0"/>
<rect x="1135" y="683" width="1" height="18" fill="#c0c0c0"/>
<rect x="1143" y="683" width="1" height="18" fill="#c0c0c0"/>
<rect x="1151" y="678" width="1" height="23" fill="#c0c0c0"/>
<rect x="1159" y="671" width="1" height="30" fill="#c0c0c0"/>
<rect x="1167" y="666" width="1" height="35" fill="#c0c0c0"/>
<rect x="1175" y="663" width="1" height="38" fill="#c0c0c0"/>
<rect x="1183" y="660" width="1" height="41" fill="#c0c0c0"/>
<rect x="1191" y="658" width="1" height="43" fill="#c0c0c0"/>
<rect x="1199" y="657" width="1" height="44" fill="#c0c0c0"/>
<rect x="1207" y="648" width="1" height="53" fill="#c0c0c0"/>
<rect x="1215" y="635" width="1" height="66" fill="#c0c0c0"/>
<rect x="1223" y="627" width="1" height="74" fill="#c0c0c0"/>
<rect x="1231" y="620" width="1" height="81" fill="#c0c0c0"/>
<rect x="1239" y="614" width="1" height="87" fill="#c0c0c0"/>
<rect x="1247" y="608" width="1" height="93" fill="#c0c0c0"/>
<rect x="1255" y="604" width="1" height="97" fill="#c0c0c0"/>
<rect x="1263" y="599" width="1" height="102" fill="#c0c0c0"/>
<rect x="1271" y="596" width="1" height="105" fill="#c0c0c0"/>
<rect x="1279" y="595" width="1" height="106" fill="#c0c0c0"/>
<rect x="1287" y="595" width="1" height="106" fill="#c0c0c0"/>
<rect x="1295" y="597" width="1" height="104" fill="#c0c0c0"/>
<rect x="1303" y="603" width="1" height="98" fill="#c0c0c0"/>
<rect x="1311" y="613" width="1" height="88" fill="#c0c0c0"/>
<rect x="1319" y="617" width="1" height="84" fill="#c0c0c0"/>
<rect x="1327" y="621" width="1" height="80" fill="#c0c0c0"/>
<rect x="1335" y="624" width="1" height="77" fill="#c0c0c0"/>
<rect x="1343" y="624" width="1" height="77" fill="#c0c0c0"/>
<rect x="1351" y="625" width="1" height="76" fill="#c0c0c0"/>
<rect x="1359" y="628" width="1" height="73" fill="#c0c0c0"/>
<rect x="1367" y="633" width="1" height="68" fill="#c0c0c0"/>
<rect x="1375" y="638" width="1" height="63" fill="#c0c0c0"/>
<polyline points="-0.5,704.1 7.5,702.7 15.5,700.6 23.5,698.2 31.5,695.7 39.5,692.7 47.5,689.3 55.5,685.3 63.5,681.4 71.5,677.4 79.5,673.9 87.5,670.2 95.5,666.5 103.5,663.0 111.5,660.4 119.5,658.9 127.5,658.6 135.5,658.9 143.5,659.8 151.5,661.2 159.5,663.4 167.5,667.0 175.5,671.3 183.5,676.1 191.5,680.7 199.5,684.9 207.5,689.5 215.5,694.1 223.5,698.5 231.5,702.4 239.5,705.5 247.5,707.9 255.5,709.8 263.5,711.9 271.5,714.3 279.5,716.4 287.5,718.2 295.5,719.9 303.5,721.9 311.5,724.2 319.5,726.8 327.5,729.4 335.5,731.7 343.5,733.9 351.5,736.0 359.5,738.4 367.5,740.8 375.5,742.6 383.5,743.8 391.5,744.1 399.5,742.9 407.5,740.9 415.5,738.1 423.5,734.4 431.5,730.1 439.5,725.8 447.5,721.4 455.5,716.9 463.5,712.8 471.5,710.0 479.5,707.6 487.5,706.0 495.5,705.0 503.5,704.3 511.5,703.4 519.5,702.7 527.5,702.3 535.5,702.2 543.5,701.9 551.5,701.3 559.5,700.1 567.5,698.5 575.5,696.8 583.5,695.0 591.5,692.8 599.5,690.1 607.5,687.0 615.5,683.5 623.5,679.8 631.5,676.2 639.5,672.2 647.5,668.2 655.5,664.4 663.5,661.0 671.5,658.0 679.5,655.9 687.5,654.6 695.5,654.7 703.5,655.7 711.5,657.8 719.5,660.5 727.5,664.0 735.5,667.7 743.5,671.5 751.5,675.1 759.5,678.2 767.5,680.5 775.5,682.2 783.5,683.5 791.5,684.9 799.5,685.8 807.5,686.7 815.5,687.6 823.5,689.3 831.5,692.2 839.5,696.2 847.5,701.0 855.5,706.0 863.5,710.4 871.5,714.4 879.5,717.5 887.5,719.9 895.5,721.3 903.5,721.1 911.5,719.9 919.5,718.4 927.5,717.1 935.5,716.0 943.5,715.1 951.5,715.0 959.5,715.9 967.5,716.5 975.5,717.1 983.5,716.8 991.5,715.6 999.5,713.0 1007.5,709.7 1015.5,706.1 1023.5,702.5 1031.5,698.6 1039.5,695.1 1047.5,691.9 1055.5,689.5 1063.5,688.2 1071.5,687.2 1079.5,686.6 1087.5,686.4 1095.5,686.3 1103.5,686.2 1111.5,686.1 1119.5,686.1 1127.5,685.9 1135.5,685.2 1143.5,684.9 1151.5,684.3 1159.5,682.7 1167.5,680.5 1175.5,677.8 1183.5,674.8 1191.5,671.5 1199.5,668.4 1207.5,664.5 1215.5,659.2 1223.5,653.5 1231.5,647.7 1239.5,641.9 1247.5,635.7 1255.5,629.5 1263.5,623.0 1271.5,616.2 1279.5,610.3 1287.5,605.9 1295.5,602.6 1303.5,600.8 1311.5,600.7 1319.5,601.8 1327.5,603.6 1335.5,606.4 1343.5,609.5 1351.5,612.8 1359.5,616.5 1367.5,620.5 1375.5,624.4" fill="none" stroke="#ff0000" stroke-width="1" stroke-linejoin="round" stroke-dasharray="3 3" shape-rendering="crispEdges"/>
<line x1="0" y1="794.5" x2="1618" y2="794.5" stroke="#c0c0c0" stroke-width="1" stroke-dasharray="3 3" shape-rendering="crispEdges"/>
<line x1="0" y1="845.5" x2="1618" y2="845.5" stroke="#c0c0c0" stroke-width="1" stroke-dasharray="3 3" shape-rendering="crispEdges"/>
<line x1="0" y1="906.5" x2="1618" y2="906.5" stroke="#c0c0c0" stroke-width="1" stroke-dasharray="3 3" shape-rendering="crispEdges"/>
<polyline points="-0.5,834.4 7.5,832.9 15.5,843.9 23.5,834.0 31.5,834.2 39.5,824.5 47.5,822.5 55.5,816.8 63.5,827.0 71.5,823.3 79.5,829.5 87.5,823.6 95.5,820.7 103.5,823.9 111.5,830.7 119.5,836.9 127.5,836.3 135.5,836.7 143.5,835.5 151.5,844.9 159.5,846.3 167.5,862.1 175.5,857.2 183.5,859.3 191.5,853.2 199.5,845.6 207.5,863.1 215.5,855.1 223.5,856.0 231.5,854.7 239.5,854.9 247.5,853.5 255.5,858.7 263.5,866.6 271.5,866.3 279.5,870.9 287.5,862.1 295.5,862.7 303.5,874.9 311.5,875.6 319.5,875.6 327.5,876.9 335.5,877.3 343.5,882.0 351.5,885.1 359.5,888.4 367.5,878.0 375.5,879.9 383.5,866.6 391.5,850.0 399.5,828.7 407.5,839.1 415.5,839.9 423.5,837.7 431.5,843.0 439.5,849.8 447.5,847.5 455.5,837.8 463.5,842.3 471.5,844.1 479.5,839.7 487.5,851.8 495.5,848.1 503.5,848.4 511.5,839.8 519.5,847.7 527.5,845.3 535.5,848.2 543.5,838.1 551.5,828.8 559.5,826.4 567.5,828.4 575.5,832.5 583.5,828.3 591.5,818.4 599.5,819.1 607.5,812.5 615.5,808.5 623.5,804.1 631.5,802.8 639.5,798.1 647.5,808.9 655.5,812.7 663.5,811.4 671.5,810.2 679.5,824.2 687.5,829.6 695.5,843.1 703.5,834.4 711.5,845.9 719.5,842.5 727.5,851.8 735.5,844.6 743.5,839.0 751.5,836.8 759.5,834.7 767.5,833.1 775.5,823.5 783.5,841.6 791.5,852.2 799.5,843.8 807.5,847.3 815.5,845.8 823.5,861.8 831.5,876.4 839.5,876.4 847.5,865.1 855.5,867.7 863.5,855.0 871.5,853.3 879.5,839.1 887.5,840.5 895.5,844.1 903.5,844.4 911.5,850.1 919.5,853.8 927.5,867.2 935.5,852.4 943.5,855.1 951.5,857.0 959.5,864.1 967.5,841.3 975.5,846.4 983.5,834.0 991.5,830.3 999.5,831.1 1007.5,826.3 1015.5,837.7 1023.5,842.3 1031.5,840.6 1039.5,839.0 1047.5,839.0 1055.5,837.1 1063.5,845.1 1071.5,831.2 1079.5,831.9 1087.5,842.3 1095.5,841.8 1103.5,839.7 1111.5,839.5 1119.5,838.7 1127.5,828.6 1135.5,831.3 1143.5,831.7 1151.5,821.0 1159.5,812.2 1167.5,812.9 1175.5,812.9 1183.5,811.3 1191.5,810.5 1199.5,814.4 1207.5,797.2 1215.5,789.1 1223.5,795.7 1231.5,794.0 1239.5,793.0 1247.5,789.7 1255.5,791.7 1263.5,788.5 1271.5,787.8 1279.5,790.2 1287.5,789.8 1295.5,793.2 1303.5,811.9 1311.5,827.4 1319.5,817.4 1327.5,816.9 1335.5,815.5 1343.5,808.4 1351.5,809.2 1359.5,818.1 1367.5,823.4 1375.5,826.0" fill="none" stroke="#1e90ff" stroke-width="1" stroke-linejoin="round"/>
<rect x="1619" y="86" width="2" height="1" fill="#000"/>
<rect x="1619" y="119" width="2" height="1" fill="#000"/>
<rect x="1619" y="152" width="2" height="1" fill="#000"/>
<rect x="1619" y="185" width="2" height="1" fill="#000"/>
<rect x="1619" y="218" width="2" height="1" fill="#000"/>
<rect x="1619" y="251" width="2" height="1" fill="#000"/>
<rect x="1619" y="284" width="2" height="1" fill="#000"/>
<rect x="1619" y="317" width="2" height="1" fill="#000"/>
<rect x="1619" y="350" width="2" height="1" fill="#000"/>
<rect x="1619" y="383" width="2" height="1" fill="#000"/>
<rect x="1619" y="416" width="2" height="1" fill="#000"/>
<rect x="1619" y="449" width="2" height="1" fill="#000"/>
<rect x="1619" y="482" width="2" height="1" fill="#000"/>
<rect x="1619" y="515" width="2" height="1" fill="#000"/>
<rect x="1619" y="548" width="2" height="1" fill="#000"/>
<rect x="1619" y="581" width="2" height="1" fill="#000"/>
<rect x="1619" y="54" width="2" height="1" fill="#000"/>
<rect x="1619" y="80" width="2" height="1" fill="#000"/>
<rect x="1619" y="106" width="2" height="1" fill="#000"/>
<rect x="1619" y="125" width="2" height="1" fill="#000"/>
<rect x="1619" y="148" width="2" height="1" fill="#000"/>
<rect x="1619" y="168" width="2" height="1" fill="#000"/>
<rect x="1619" y="587" width="2" height="1" fill="#000"/>
<rect x="1619" y="700" width="2" height="1" fill="#000"/>
<rect x="1619" y="755" width="2" height="1" fill="#000"/>
<rect x="1619" y="759" width="2" height="1" fill="#000"/>
<rect x="1619" y="931" width="2" height="1" fill="#000"/>
<rect x="63" y="933" width="1" height="2" fill="#000"/>
<rect x="127" y="933" width="1" height="2" fill="#000"/>
<rect x="191" y="933" width="1" height="2" fill="#000"/>
<rect x="255" y="933" width="1" height="2" fill="#000"/>
<rect x="319" y="933" width="1" height="2" fill="#000"/>
<rect x="383" y="933" width="1" height="2" fill="#000"/>
<rect x="447" y="933" width="1" height="2" fill="#000"/>
<rect x="511" y="933" width="1" height="2" fill="#000"/>
<rect x="575" y="933" width="1" height="2" fill="#000"/>
<rect x="639" y="933" width="1" height="2" fill="#000"/>
<rect x="703" y="933" width="1" height="2" fill="#000"/>
<rect x="767" y="933" width="1" height="2" fill="#000"/>
<rect x="831" y="933" width="1" height="2" fill="#000"/>
<rect x="895" y="933" width="1" height="2" fill="#000"/>
<rect x="959" y="933" width="1" height="2" fill="#000"/>
<rect x="1023" y="933" width="1" height="2" fill="#000"/>
<rect x="1087" y="933" width="1" height="2" fill="#000"/>
<rect x="1151" y="933" width="1" height="2" fill="#000"/>
<rect x="1215" y="933" width="1" height="2" fill="#000"/>
<rect x="1279" y="933" width="1" height="2" fill="#000"/>
<rect x="1343" y="933" width="1" height="2" fill="#000"/>
<rect x="1490" y="114" width="74" height="25" fill="#ff0000"/>
<rect x="1491" y="115" width="72" height="23" fill="#fff"/>
<rect x="1480" y="126" width="7" height="1" fill="#ff0000"/>
<rect x="1487" y="124" width="3" height="5" fill="#ff0000"/>
<rect x="1488" y="125" width="1" height="3" fill="#fff"/>
<polygon points="1386,32 1396,32 1391,37" fill="#c0c0c0" shape-rendering="auto"/>
</svg>
<div class="ax" style="left:1623.6px;top:80.4px;">1.31570</div>
<div class="ax" style="left:1623.6px;top:113.4px;">1.31305</div>
<div class="ax" style="left:1623.6px;top:146.4px;">1.31040</div>
<div class="ax" style="left:1623.6px;top:179.4px;">1.30770</div>
<div class="ax" style="left:1623.6px;top:212.4px;">1.30505</div>
<div class="ax" style="left:1623.6px;top:245.4px;">1.30240</div>
<div class="ax" style="left:1623.6px;top:278.4px;">1.29975</div>
<div class="ax" style="left:1623.6px;top:311.4px;">1.29710</div>
<div class="ax" style="left:1623.6px;top:344.4px;">1.29445</div>
<div class="ax" style="left:1623.6px;top:377.4px;">1.29180</div>
<div class="ax" style="left:1623.6px;top:410.4px;">1.28915</div>
<div class="ax" style="left:1623.6px;top:443.4px;">1.28650</div>
<div class="ax" style="left:1623.6px;top:476.4px;">1.28385</div>
<div class="ax" style="left:1623.6px;top:509.4px;">1.28120</div>
<div class="ax" style="left:1623.6px;top:542.4px;">1.27855</div>
<div class="ax" style="left:1623.6px;top:575.4px;">1.27590</div>
<div class="ax w pb" style="left:1620px;top:49px;background:#ff4500">1.31821</div>
<div class="ax w pb" style="left:1620px;top:75px;background:#ff0000">1.31607</div>
<div class="ax w pb" style="left:1620px;top:101px;background:#000">1.31409</div>
<div class="ax w pb" style="left:1620px;top:120px;background:#32cd32">1.31246</div>
<div class="ax w pb" style="left:1620px;top:143px;background:#0000ff">1.31061</div>
<div class="ax w pb" style="left:1620px;top:163px;background:#0000ff">1.30901</div>
<div class="ax" style="left:1621.8px;top:588px;">0.006468</div>
<div class="ax" style="left:1621.8px;top:695px;">0.00</div>
<div class="ax" style="left:1621.8px;top:744px;">-0.003171</div>
<div class="ax" style="left:1621.8px;top:760px;">100</div>
<div class="ax" style="left:1621.8px;top:789px;">80</div>
<div class="ax" style="left:1621.8px;top:840px;">50</div>
<div class="ax" style="left:1621.8px;top:901px;">15</div>
<div class="ax" style="left:1621.8px;top:920px;">0</div>
<div class="ax tm" style="left:-2.5px;top:935.6px;">30 Oct 2019</div>
<div class="ax tm" style="left:61.5px;top:935.6px;">31 Oct 12:00</div>
<div class="ax tm" style="left:125.5px;top:935.6px;">3 Nov 23:00</div>
<div class="ax tm" style="left:189.5px;top:935.6px;">5 Nov 04:00</div>
<div class="ax tm" style="left:253.5px;top:935.6px;">6 Nov 12:00</div>
<div class="ax tm" style="left:317.5px;top:935.6px;">7 Nov 20:00</div>
<div class="ax tm" style="left:381.5px;top:935.6px;">11 Nov 04:00</div>
<div class="ax tm" style="left:445.5px;top:935.6px;">12 Nov 12:00</div>
<div class="ax tm" style="left:509.5px;top:935.6px;">13 Nov 20:00</div>
<div class="ax tm" style="left:573.5px;top:935.6px;">15 Nov 04:00</div>
<div class="ax tm" style="left:637.5px;top:935.6px;">18 Nov 12:00</div>
<div class="ax tm" style="left:701.5px;top:935.6px;">19 Nov 20:00</div>
<div class="ax tm" style="left:765.5px;top:935.6px;">21 Nov 04:00</div>
<div class="ax tm" style="left:829.5px;top:935.6px;">22 Nov 12:00</div>
<div class="ax tm" style="left:893.5px;top:935.6px;">25 Nov 20:00</div>
<div class="ax tm" style="left:957.5px;top:935.6px;">27 Nov 04:00</div>
<div class="ax tm" style="left:1021.5px;top:935.6px;">28 Nov 12:00</div>
<div class="ax tm" style="left:1085.5px;top:935.6px;">1 Dec 23:00</div>
<div class="ax tm" style="left:1149.5px;top:935.6px;">3 Dec 04:00</div>
<div class="ax tm" style="left:1213.5px;top:935.6px;">4 Dec 12:00</div>
<div class="ax tm" style="left:1277.5px;top:935.6px;">5 Dec 20:00</div>
<div class="ax tm" style="left:1341.5px;top:935.6px;">9 Dec 04:00</div>
<div class="ax ttl" style="left:14px;top:34px;">GBPUSD-,H4&nbsp; 1.31454 1.31501 1.31353 1.31409</div>
<div class="ax ind" style="left:3px;top:590px;">MACD(12,26,9) 0.003581 0.004341</div>
<div class="ax ind" style="left:3px;top:762px;">RSI(14) 61.5671</div>
<div class="big">多空转折点</div>
<div class="redlbl">1.31246</div>
<div id="tb"><div class="ln" style="top:0;background:#969696"></div><div class="ln" style="top:1px;background:#fff"></div><div class="ln" style="top:26px;background:#f6f6f6"></div><div class="ln" style="top:27px;background:#a0a0a0"></div><div class="ln" style="top:28px;background:#646464"></div><div class="ln" style="top:29px;height:2px;background:#fff"></div>
<svg id="tbs" width="1665" height="31" viewBox="0 0 1665 31" shape-rendering="crispEdges">
<defs>
<linearGradient id="gy" x1="0" y1="0" x2="1" y2="1"><stop offset="0" stop-color="#fbe46a"/><stop offset="1" stop-color="#e0a010"/></linearGradient>
<linearGradient id="gb" x1="0" y1="0" x2="0" y2="1"><stop offset="0" stop-color="#30a8ff"/><stop offset="1" stop-color="#0860e0"/></linearGradient>
<linearGradient id="gc" x1="0" y1="0" x2="0" y2="1"><stop offset="0" stop-color="#ffffff"/><stop offset="1" stop-color="#c8d4e8"/></linearGradient>
<linearGradient id="gg" x1="0" y1="0" x2="0" y2="1"><stop offset="0" stop-color="#90ff90"/><stop offset="1" stop-color="#00c800"/></linearGradient>
<linearGradient id="gl" x1="0" y1="0" x2="0" y2="1"><stop offset="0" stop-color="#e8f8ff"/><stop offset="1" stop-color="#b8e4f8"/></linearGradient>
<radialGradient id="gr" cx="0.5" cy="0.5" r="0.5"><stop offset="0" stop-color="#ff4020"/><stop offset="1" stop-color="#c81000"/></radialGradient>
<linearGradient id="gh" x1="0" y1="0" x2="0" y2="1"><stop offset="0" stop-color="#90d0f0"/><stop offset="1" stop-color="#3090c8"/></linearGradient>
</defs>
<rect x="0" y="10" width="1" height="3" fill="#606060"/>
<rect x="0" y="13" width="1" height="12" fill="#00a000"/>
<rect x="0" y="17" width="5" height="4" fill="#00b800"/>
<rect x="0" y="18" width="4" height="2" fill="#20e020"/>
<g shape-rendering="auto"><path d="M62,8 L71.3,14 L72,18 L64,23 L56,17 Z" fill="#c08a20" stroke="#a06810" stroke-width="0.8" stroke-linejoin="round"/><path d="M62,8.6 L70.6,14.2 L64.2,20.3 L57,16.5 Z" fill="url(#gy)"/><path d="M57,17.2 L64.2,21 L71.4,15.2" stroke="#f0d070" stroke-width="0.8" fill="none"/></g>
<g shape-rendering="auto"><path d="M86,9 L90,7 L97,8 L97,17 L86,17 Z" fill="url(#gb)"/><path d="M86,9 L89,10.5 L89,17 L86,17 Z" fill="#0a78f0"/><path d="M89,10.5 L97,9.5" stroke="#9fd8ff" stroke-width="1"/><rect x="91" y="11.3" width="4.5" height="1.2" fill="#d8f0ff"/><path d="M86.5,22.5 Q84.2,22.3 84.3,20 Q84.5,18 86.8,18 Q87.5,15.6 90.2,16 Q92,14.6 94,16.6 Q96,15.6 97.3,17.8 Q100,18 99.8,20.4 Q99.6,22.5 97.5,22.5 Z" fill="url(#gc)" stroke="#5878a8" stroke-width="0.9"/></g>
<g shape-rendering="auto" fill="none"><circle cx="120" cy="15" r="7.2" stroke="#7aa0e0" stroke-width="1.3" opacity="0.75"/><circle cx="120" cy="15" r="4.4" stroke="#4a78d8" stroke-width="1.3" opacity="0.8"/><path d="M120,15 L120,23 A8,8 0 0 0 127.6,13 Z" fill="#58b848" opacity="0.55" stroke="none"/><circle cx="120" cy="14.6" r="2" fill="#1858d8" stroke="none"/><path d="M120.3,15 L120.3,23" stroke="#18a018" stroke-width="1.2"/></g>
<g shape-rendering="auto"><path d="M139.8,13.5 L154.8,13.5 L147.5,23 Z" fill="#f4d848" stroke="#c8a010" stroke-width="0.8"/><ellipse cx="147" cy="12" rx="7.8" ry="3" fill="url(#gh)" stroke="#2880b0" stroke-width="0.8"/><ellipse cx="147" cy="9.6" rx="4" ry="2.8" fill="#88c8f0" stroke="#3890c0" stroke-width="0.6"/><circle cx="151.6" cy="18.6" r="4.3" fill="url(#gr)"/><rect x="150" y="17" width="3.2" height="3.2" fill="#fff"/></g>
<rect x="215" y="2" width="1" height="25" fill="#a0a0a0"/>
<rect x="216" y="2" width="1" height="25" fill="#fff"/>
<rect x="219" y="5" width="3" height="1" fill="#a8a8a8"/>
<rect x="219" y="7" width="3" height="1" fill="#a8a8a8"/>
<rect x="219" y="9" width="3" height="1" fill="#a8a8a8"/>
<rect x="219" y="11" width="3" height="1" fill="#a8a8a8"/>
<rect x="219" y="13" width="3" height="1" fill="#a8a8a8"/>
<rect x="219" y="15" width="3" height="1" fill="#a8a8a8"/>
<rect x="219" y="17" width="3" height="1" fill="#a8a8a8"/>
<rect x="219" y="19" width="3" height="1" fill="#a8a8a8"/>
<rect x="219" y="21" width="3" height="1" fill="#a8a8a8"/>
<rect x="219" y="23" width="3" height="1" fill="#a8a8a8"/>
<rect x="233" y="9" width="1" height="14" fill="#555"/>
<rect x="231" y="20" width="14" height="1" fill="#555"/>
<path d="M231.5,11.5 L233.5,8.5 L235.5,11.5 Z" fill="#555" shape-rendering="auto"/>
<path d="M243,18.5 L246,20.5 L243,22.5 Z" fill="#555" shape-rendering="auto"/>
<rect x="239" y="10" width="1" height="9" fill="#008000"/>
<rect x="240" y="11" width="2" height="1" fill="#008000"/>
<rect x="237" y="17" width="2" height="1" fill="#008000"/>
<rect x="253" y="3" width="25" height="23" fill="#f9f9f9"/>
<rect x="253" y="3" width="25" height="1" fill="#a0a0a0"/>
<rect x="253" y="3" width="1" height="23" fill="#a0a0a0"/>
<rect x="253" y="25" width="26" height="1" fill="#fff"/>
<rect x="278" y="3" width="1" height="23" fill="#fff"/>
<rect x="261" y="9" width="1" height="14" fill="#555"/>
<rect x="259" y="20" width="14" height="1" fill="#555"/>
<path d="M259.5,11.5 L261.5,8.5 L263.5,11.5 Z" fill="#555" shape-rendering="auto"/>
<path d="M271,18.5 L274,20.5 L271,22.5 Z" fill="#555" shape-rendering="auto"/>
<rect x="267" y="7" width="1" height="12" fill="#008000"/>
<rect x="265" y="9" width="5" height="8" fill="#008000"/>
<rect x="266" y="10" width="3" height="6" fill="url(#gg)"/>
<rect x="289" y="9" width="1" height="14" fill="#555"/>
<rect x="287" y="20" width="14" height="1" fill="#555"/>
<path d="M287.5,11.5 L289.5,8.5 L291.5,11.5 Z" fill="#555" shape-rendering="auto"/>
<path d="M299,18.5 L302,20.5 L299,22.5 Z" fill="#555" shape-rendering="auto"/>
<path d="M288,17.5 Q291,14 293,12.2 Q294.5,11.3 296,12.6 Q298,14.6 300.5,15.3" stroke="#108010" stroke-width="1.3" fill="none" shape-rendering="auto"/>
<rect x="310" y="4" width="1" height="21" fill="#a0a0a0"/>
<rect x="311" y="4" width="1" height="21" fill="#fff"/>
<g shape-rendering="auto"><path d="M328.5,17 L334,22.3" stroke="#a87808" stroke-width="3.6"/><path d="M329.2,17.6 L333.6,21.8" stroke="#f0d030" stroke-width="1.8"/><circle cx="325" cy="12.8" r="5.6" fill="url(#gl)" stroke="#2868b8" stroke-width="1.2"/><rect x="321.8" y="12" width="6.4" height="1.7" fill="#3888b0"/><rect x="324.15" y="9.6" width="1.7" height="6.4" fill="#3888b0"/></g>
<g shape-rendering="auto"><path d="M356.5,17 L362,22.3" stroke="#a87808" stroke-width="3.6"/><path d="M357.2,17.6 L361.6,21.8" stroke="#f0d030" stroke-width="1.8"/><circle cx="353" cy="12.8" r="5.6" fill="url(#gl)" stroke="#2868b8" stroke-width="1.2"/><rect x="349.8" y="12" width="6.4" height="1.7" fill="#3888b0"/></g>
<rect x="375" y="7" width="8" height="8" fill="#2e9e10"/>
<rect x="375" y="7" width="8" height="1" fill="#58b838"/>
<rect x="376" y="10" width="6" height="4" fill="#fff"/>
<rect x="377" y="11" width="4" height="1" fill="#2e9e1070"/>
<rect x="376" y="8" width="1" height="1" fill="#e0f0ff"/>
<rect x="383" y="7" width="8" height="8" fill="#1048d8"/>
<rect x="383" y="7" width="8" height="1" fill="#4878e8"/>
<rect x="384" y="10" width="6" height="4" fill="#fff"/>
<rect x="385" y="11" width="4" height="1" fill="#1048d870"/>
<rect x="384" y="8" width="1" height="1" fill="#e0f0ff"/>
<rect x="375" y="15" width="8" height="8" fill="#1048d8"/>
<rect x="375" y="15" width="8" height="1" fill="#4878e8"/>
<rect x="376" y="18" width="6" height="4" fill="#fff"/>
<rect x="377" y="19" width="4" height="1" fill="#1048d870"/>
<rect x="376" y="16" width="1" height="1" fill="#e0f0ff"/>
<rect x="383" y="15" width="8" height="8" fill="#2e9e10"/>
<rect x="383" y="15" width="8" height="1" fill="#58b838"/>
<rect x="384" y="18" width="6" height="4" fill="#fff"/>
<rect x="385" y="19" width="4" height="1" fill="#2e9e1070"/>
<rect x="384" y="16" width="1" height="1" fill="#e0f0ff"/>
<rect x="400" y="4" width="1" height="21" fill="#a0a0a0"/>
<rect x="401" y="4" width="1" height="21" fill="#fff"/>
<rect x="405" y="3" width="25" height="23" fill="#f9f9f9"/>
<rect x="405" y="3" width="25" height="1" fill="#a0a0a0"/>
<rect x="405" y="3" width="1" height="23" fill="#a0a0a0"/>
<rect x="405" y="25" width="26" height="1" fill="#fff"/>
<rect x="430" y="3" width="1" height="23" fill="#fff"/>
<rect x="413" y="9" width="1" height="14" fill="#555"/>
<rect x="411" y="20" width="14" height="1" fill="#555"/>
<path d="M411.5,11.5 L413.5,8.5 L415.5,11.5 Z" fill="#555" shape-rendering="auto"/>
<path d="M423,18.5 L426,20.5 L423,22.5 Z" fill="#555" shape-rendering="auto"/>
<path d="M418.5,11 L422.5,14.5 L418.5,18 Z" fill="#60e060" stroke="#10a010" stroke-width="1" shape-rendering="auto"/>
<rect x="433" y="3" width="25" height="23" fill="#f9f9f9"/>
<rect x="433" y="3" width="25" height="1" fill="#a0a0a0"/>
<rect x="433" y="3" width="1" height="23" fill="#a0a0a0"/>
<rect x="433" y="25" width="26" height="1" fill="#fff"/>
<rect x="458" y="3" width="1" height="23" fill="#fff"/>
<rect x="441" y="9" width="1" height="14" fill="#555"/>
<rect x="439" y="20" width="14" height="1" fill="#555"/>
<path d="M439.5,11.5 L441.5,8.5 L443.5,11.5 Z" fill="#555" shape-rendering="auto"/>
<path d="M451,18.5 L454,20.5 L451,22.5 Z" fill="#555" shape-rendering="auto"/>
<rect x="447" y="9" width="1" height="10" fill="#1874a8"/>
<path d="M447.5,9 L447.5,19" stroke="#1874a8" stroke-width="1.6" shape-rendering="auto"/>
<path d="M449,14.5 L453.5,14.5 M449,14.5 L451.5,12.3 M449,14.5 L451.5,16.7" stroke="#e05000" stroke-width="1.5" fill="none" shape-rendering="auto"/>
<rect x="462" y="4" width="1" height="21" fill="#a0a0a0"/>
<rect x="463" y="4" width="1" height="21" fill="#fff"/>
<g shape-rendering="auto"><path d="M472.5,8.5 Q472.5,7.5 473.5,7.5 L481,7.5 L484,10.5 L484,19.5 Q484,20.5 483,20.5 L473.5,20.5 Q472.5,20.5 472.5,19.5 Z" fill="#fcfcfc" stroke="#989898" stroke-width="0.9"/><path d="M478,10 Q476,10 476,12 L476,17" stroke="#484030" stroke-width="1" fill="none"/><path d="M476,13.5 L478.5,13.5" stroke="#484030" stroke-width="0.8"/><path d="M480.5,13.5 L484.5,13.5 L484.5,17 L488,17 L488,21 L484.5,21 L484.5,24.5 L480.5,24.5 L480.5,21 L477,21 L477,17 L480.5,17 Z" fill="#20d020" stroke="#008800" stroke-width="0.9"/></g>
<path d="M494,14 L500,14 L497,17.2 Z" fill="#000" shape-rendering="auto"/>
<g shape-rendering="auto"><circle cx="518" cy="15" r="6.7" fill="#ececf0" stroke="#1a6ee0" stroke-width="2.7"/><circle cx="518" cy="15" r="8" fill="none" stroke="#0c4cb0" stroke-width="0.7"/><circle cx="518" cy="15" r="4.6" fill="none" stroke="#b0b0b8" stroke-width="0.8" stroke-dasharray="0.8 1.6"/><path d="M517.6,11.4 L517.6,15.3 L520.3,15.3" stroke="#383838" stroke-width="0.95" fill="none"/></g>
<path d="M533,14 L539,14 L536,17.2 Z" fill="#000" shape-rendering="auto"/>
<rect x="549" y="8" width="16" height="14" fill="#2a6cc8"/>
<rect x="550" y="9" width="14" height="2" fill="#a8d0f8"/>
<rect x="550" y="11" width="14" height="5" fill="#fff"/>
<rect x="550" y="17" width="14" height="4" fill="#fff"/>
<path d="M551,14.5 L553.5,14.5 L555.5,12.8 L557.5,14 L560,14 L562.5,12.5" stroke="#a02000" stroke-width="1.2" fill="none" shape-rendering="auto"/>
<path d="M551,19.5 L553.5,19.5 L555.5,18.2 L557.5,19.6 L560,17.6 L562.5,19.8" stroke="#108020" stroke-width="1.2" fill="none" shape-rendering="auto"/>
<path d="M572,14 L578,14 L575,17.2 Z" fill="#000" shape-rendering="auto"/>
<rect x="583" y="2" width="1" height="25" fill="#a0a0a0"/>
<rect x="584" y="2" width="1" height="25" fill="#fff"/>
<rect x="587" y="5" width="3" height="1" fill="#a8a8a8"/>
<rect x="587" y="7" width="3" height="1" fill="#a8a8a8"/>
<rect x="587" y="9" width="3" height="1" fill="#a8a8a8"/>
<rect x="587" y="11" width="3" height="1" fill="#a8a8a8"/>
<rect x="587" y="13" width="3" height="1" fill="#a8a8a8"/>
<rect x="587" y="15" width="3" height="1" fill="#a8a8a8"/>
<rect x="587" y="17" width="3" height="1" fill="#a8a8a8"/>
<rect x="587" y="19" width="3" height="1" fill="#a8a8a8"/>
<rect x="587" y="21" width="3" height="1" fill="#a8a8a8"/>
<rect x="587" y="23" width="3" height="1" fill="#a8a8a8"/>
<rect x="593" y="3" width="25" height="23" fill="#f9f9f9"/>
<rect x="593" y="3" width="25" height="1" fill="#a0a0a0"/>
<rect x="593" y="3" width="1" height="23" fill="#a0a0a0"/>
<rect x="593" y="25" width="26" height="1" fill="#fff"/>
<rect x="618" y="3" width="1" height="23" fill="#fff"/>
<path d="M601,7.8 L601,19 L603.6,16.8 L606,22 L608,21 L605.6,16 L609,15.6 Z" fill="#484848" shape-rendering="auto"/>
<rect x="626" y="15" width="6" height="1" fill="#484848"/>
<rect x="635" y="15" width="6" height="1" fill="#484848"/>
<rect x="633" y="8" width="1" height="6" fill="#484848"/>
<rect x="633" y="17" width="1" height="6" fill="#484848"/>
<rect x="633" y="15" width="1" height="1" fill="#909090"/>
<rect x="650" y="4" width="1" height="21" fill="#a0a0a0"/>
<rect x="651" y="4" width="1" height="21" fill="#fff"/>
<rect x="667" y="9" width="1" height="13" fill="#484848"/>
<rect x="690" y="15" width="12" height="1" fill="#484848"/>
<path d="M718,22 L730.5,9.5" stroke="#484848" stroke-width="1.1" shape-rendering="auto"/>
<g shape-rendering="auto" stroke="#484848" stroke-width="1" fill="none"><path d="M744,17 L757,8.5 M745,22 L758,13.5"/><path d="M747,14 L746,21.5 M750.5,11.5 L749.5,19.5 M754,9.5 L753,17.5 M757,7.5 L756,15" stroke-width="0.9"/></g>
<rect x="773" y="8" width="1" height="1" fill="#484848"/>
<rect x="775" y="8" width="1" height="1" fill="#484848"/>
<rect x="777" y="8" width="1" height="1" fill="#484848"/>
<rect x="779" y="8" width="1" height="1" fill="#484848"/>
<rect x="781" y="8" width="1" height="1" fill="#484848"/>
<rect x="783" y="8" width="1" height="1" fill="#484848"/>
<rect x="785" y="8" width="1" height="1" fill="#484848"/>
<rect x="773" y="12" width="1" height="1" fill="#484848"/>
<rect x="775" y="12" width="1" height="1" fill="#484848"/>
<rect x="777" y="12" width="1" height="1" fill="#484848"/>
<rect x="779" y="12" width="1" height="1" fill="#484848"/>
<rect x="781" y="12" width="1" height="1" fill="#484848"/>
<rect x="783" y="12" width="1" height="1" fill="#484848"/>
<rect x="785" y="12" width="1" height="1" fill="#484848"/>
<rect x="773" y="15" width="1" height="1" fill="#484848"/>
<rect x="775" y="15" width="1" height="1" fill="#484848"/>
<rect x="777" y="15" width="1" height="1" fill="#484848"/>
<rect x="779" y="15" width="1" height="1" fill="#484848"/>
<rect x="781" y="15" width="1" height="1" fill="#484848"/>
<rect x="783" y="15" width="1" height="1" fill="#484848"/>
<rect x="785" y="15" width="1" height="1" fill="#484848"/>
<rect x="773" y="19" width="1" height="1" fill="#484848"/>
<rect x="775" y="19" width="1" height="1" fill="#484848"/>
<rect x="777" y="19" width="1" height="1" fill="#484848"/>
<rect x="779" y="19" width="1" height="1" fill="#484848"/>
<rect x="781" y="19" width="1" height="1" fill="#484848"/>
<rect x="783" y="19" width="1" height="1" fill="#484848"/>
<rect x="785" y="19" width="1" height="1" fill="#484848"/>
<rect x="830" y="9" width="1" height="1" fill="#484848"/>
<rect x="830" y="21" width="1" height="1" fill="#484848"/>
<rect x="832" y="9" width="1" height="1" fill="#484848"/>
<rect x="832" y="21" width="1" height="1" fill="#484848"/>
<rect x="834" y="9" width="1" height="1" fill="#484848"/>
<rect x="834" y="21" width="1" height="1" fill="#484848"/>
<rect x="836" y="9" width="1" height="1" fill="#484848"/>
<rect x="836" y="21" width="1" height="1" fill="#484848"/>
<rect x="838" y="9" width="1" height="1" fill="#484848"/>
<rect x="838" y="21" width="1" height="1" fill="#484848"/>
<rect x="840" y="9" width="1" height="1" fill="#484848"/>
<rect x="840" y="21" width="1" height="1" fill="#484848"/>
<rect x="842" y="9" width="1" height="1" fill="#484848"/>
<rect x="842" y="21" width="1" height="1" fill="#484848"/>
<rect x="830" y="9" width="1" height="1" fill="#484848"/>
<rect x="842" y="9" width="1" height="1" fill="#484848"/>
<rect x="830" y="11" width="1" height="1" fill="#484848"/>
<rect x="842" y="11" width="1" height="1" fill="#484848"/>
<rect x="830" y="13" width="1" height="1" fill="#484848"/>
<rect x="842" y="13" width="1" height="1" fill="#484848"/>
<rect x="830" y="15" width="1" height="1" fill="#484848"/>
<rect x="842" y="15" width="1" height="1" fill="#484848"/>
<rect x="830" y="17" width="1" height="1" fill="#484848"/>
<rect x="842" y="17" width="1" height="1" fill="#484848"/>
<rect x="830" y="19" width="1" height="1" fill="#484848"/>
<rect x="842" y="19" width="1" height="1" fill="#484848"/>
<rect x="830" y="21" width="1" height="1" fill="#484848"/>
<rect x="842" y="21" width="1" height="1" fill="#484848"/>
<rect x="829" y="8" width="2" height="2" fill="#484848"/>
<g shape-rendering="auto" fill="#404040"><path d="M860.5,9 L864,12 L860.5,14.6 L857,12 Z"/><path d="M867.5,16 L871,19 L867.5,22 L864,19 Z"/><path d="M860.5,15.5 L862.5,17.6 L866.5,13" stroke="#404040" stroke-width="1.3" fill="none"/></g>
<path d="M878,14 L884,14 L881,17.2 Z" fill="#000" shape-rendering="auto"/>
<rect x="889" y="2" width="1" height="25" fill="#a0a0a0"/>
<rect x="890" y="2" width="1" height="25" fill="#fff"/>
<rect x="893" y="5" width="3" height="1" fill="#a8a8a8"/>
<rect x="893" y="7" width="3" height="1" fill="#a8a8a8"/>
<rect x="893" y="9" width="3" height="1" fill="#a8a8a8"/>
<rect x="893" y="11" width="3" height="1" fill="#a8a8a8"/>
<rect x="893" y="13" width="3" height="1" fill="#a8a8a8"/>
<rect x="893" y="15" width="3" height="1" fill="#a8a8a8"/>
<rect x="893" y="17" width="3" height="1" fill="#a8a8a8"/>
<rect x="893" y="19" width="3" height="1" fill="#a8a8a8"/>
<rect x="893" y="21" width="3" height="1" fill="#a8a8a8"/>
<rect x="893" y="23" width="3" height="1" fill="#a8a8a8"/>
<rect x="1039" y="3" width="25" height="23" fill="#f9f9f9"/>
<rect x="1039" y="3" width="25" height="1" fill="#a0a0a0"/>
<rect x="1039" y="3" width="1" height="23" fill="#a0a0a0"/>
<rect x="1039" y="25" width="26" height="1" fill="#fff"/>
<rect x="1064" y="3" width="1" height="23" fill="#fff"/>
<rect x="1150" y="2" width="1" height="25" fill="#a0a0a0"/>
<rect x="1151" y="2" width="1" height="25" fill="#fff"/>
<g shape-rendering="auto"><circle cx="1620.6" cy="12.4" r="4.1" fill="#f8f8ff" stroke="#2060d8" stroke-width="1.5"/><path d="M1617.6,15.6 L1612.8,19.8" stroke="#1850d0" stroke-width="2.6" stroke-dasharray="1.2 0.5"/></g>
<g shape-rendering="auto"><ellipse cx="1653" cy="11.8" rx="6.4" ry="4.7" fill="#f4f4f8" stroke="#909090" stroke-width="0.9"/><path d="M1655,16 L1656.5,18.8 L1657.5,15.5 Z" fill="#707070"/><ellipse cx="1644.6" cy="16.2" rx="5" ry="3.7" fill="#f0f0f6" stroke="#909090" stroke-width="0.9"/><path d="M1641.5,19 L1641.2,21.8 L1644,19.6 Z" fill="#707070"/></g>
</svg>
<div class="cn" style="left:7.5px">新订单</div><div class="cn" style="left:159px;letter-spacing:0.3px">自动交易</div>
<div class="ib" style="left:755px;top:18px;font-size:7.5px;line-height:8px;">E</div>
<div class="ib" style="left:783px;top:18px;font-size:7.5px;line-height:8px;">F</div>
<div class="ib" style="left:803.5px;top:8px;font-size:12px;line-height:14px;">A</div>
<div class="ib" style="left:832.5px;top:9px;font-size:11px;line-height:14px;">T</div>
<div class="tf" style="left:897px">M1</div><div class="tf" style="left:925px">M5</div><div class="tf" style="left:953px">M15</div><div class="tf" style="left:981px">M30</div><div class="tf" style="left:1009px">H1</div><div class="tf" style="left:1037px">H4</div><div class="tf" style="left:1065px">D1</div><div class="tf" style="left:1093px">W1</div><div class="tf" style="left:1121px">MN</div></div>
<div id="tp">
<div class="red btn" style="left:2px;top:5px;width:52px;height:26px;border-bottom:none"></div>
<div class="red btn" style="left:169px;top:5px;width:52px;height:26px;border-bottom:none"></div>
<div class="red low" style="left:2px;top:29px;width:109px;height:40px;border-top:none"></div>
<div class="red low" style="left:113px;top:29px;width:108px;height:40px;border-top:none"></div>
<div style="position:absolute;left:54px;top:29px;width:57px;height:1px;background:#d82020"></div>
<div style="position:absolute;left:113px;top:29px;width:56px;height:1px;background:#d82020"></div>
<div style="position:absolute;left:6px;top:28px;width:44px;height:1px;background:#b41818"></div>
<div style="position:absolute;left:6px;top:29px;width:44px;height:1px;background:#f06464"></div>
<div style="position:absolute;left:173px;top:28px;width:44px;height:1px;background:#b41818"></div>
<div style="position:absolute;left:173px;top:29px;width:44px;height:1px;background:#f06464"></div>
<div class="sp"></div>
<div class="sb" style="left:57px"></div><div class="sb" style="left:146px;border-right:none;border-left:1px solid #b4b8c0;width:20px"></div>
<svg style="position:absolute;left:0;top:0" width="223" height="72"><path d="M63.5,14 L69.5,14 L66.5,17.2 Z" fill="#4464c4"/><path d="M152.5,17.2 L158.500,17.2 L155.5,14 Z" fill="#4464c4"/></svg>
<div class="t" id="t_sell" style="left:14px;top:9px;font-size:11.6px;line-height:14px;transform-origin:0 0;transform:scaleX(0.93)">SELL</div>
<div class="t" id="t_buy" style="left:182px;top:9px;font-size:11.6px;line-height:14px;transform-origin:0 0;transform:scaleX(0.93)">BUY</div>
<div class="t" id="t_vol" style="left:100px;top:9px;width:42.5px;text-align:right;color:#000;font-size:12.4px;line-height:14px;">1.00</div>
<div class="t" id="t_s1" style="left:21px;top:48.5px;letter-spacing:0.4px;font-size:12.6px;line-height:14px;font-weight:bold;">1.31</div>
<div class="t" id="t_s2" style="left:48.5px;top:28px;font-size:35px;line-height:40px;transform-origin:0 0;transform:scaleX(0.95);-webkit-text-stroke:0.6px #ca1919">40</div>
<div class="t" id="t_s3" style="left:88.5px;top:33.6px;font-size:12.4px;line-height:14px;font-weight:bold;">9</div>
<div class="t" id="t_b1" style="left:131px;top:48.5px;letter-spacing:0.4px;font-size:12.6px;line-height:14px;font-weight:bold;">1.31</div>
<div class="t" id="t_b2" style="left:159.5px;top:28px;font-size:35px;line-height:40px;transform-origin:0 0;transform:scaleX(0.95);-webkit-text-stroke:0.6px #ca1919">53</div>
<div class="t" id="t_b3" style="left:199.5px;top:33.6px;font-size:12.4px;line-height:14px;font-weight:bold;">6</div>
</div>
<svg style="position:absolute;left:2px;top:37.3px" width="8" height="5"><path d="M0,4.6 L7,4.6 L3.5,0.4 Z" fill="#000"/></svg>

</body></html>
